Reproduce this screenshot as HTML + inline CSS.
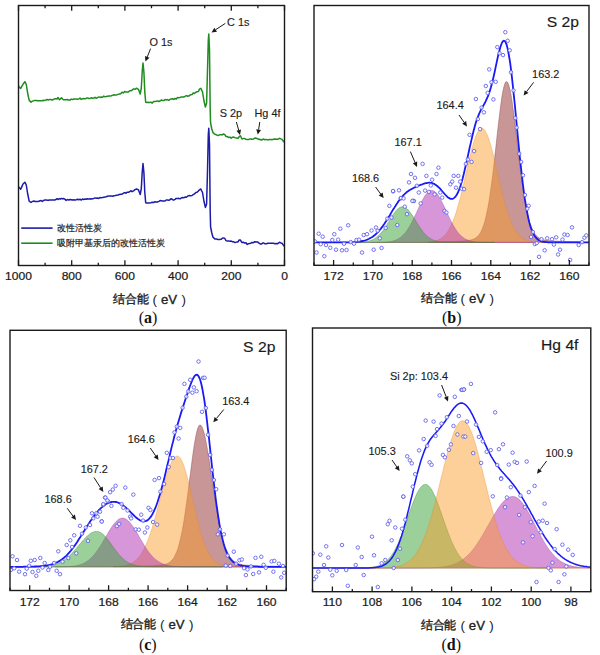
<!DOCTYPE html>
<html><head><meta charset="utf-8"><style>html,body{margin:0;padding:0;background:#fff;width:600px;height:655px;overflow:hidden}svg{display:block}</style></head>
<body><svg width="600" height="655" viewBox="0 0 600 655">
<rect width="600" height="655" fill="#fff"/>
<path d="M18.5 186.6L19.6 188.1L20.7 189.3L21.9 186.6L23 184L24.9 182.2L26.3 185L27.6 193.5L29.2 201.2L31 202.5L32.5 201.4L34 201L35.2 201.6L36.4 201.4L37.6 201.6L38.8 201.3L40 200.8L41.2 200.6L42.4 201.5L43.6 200.4L44.8 200.1L46 199.9L47.2 200.3L48.4 200.2L49.6 199.9L50.8 200L52 200L53.3 200L54.7 200L56 199.5L57 198.7L58 199.5L59.5 198.6L60.5 199L61.5 198.4L62.5 198.9L63.5 198.5L64.8 199.1L66.1 200.4L67.4 199.5L68.7 200.1L70 199.5L71.2 199.8L72.5 200.1L73.8 199.8L75 199.9L76.2 199.7L77.5 199.3L78.8 199.8L80 199.2L81.2 200.1L82.5 199.1L83.8 199.4L85 199.1L86.2 199.3L87.5 198.7L88.8 199.1L90 198.7L91.2 199L92.5 198.7L93.8 198.4L95 197.9L96.2 198.3L97.5 198.1L98.8 198.4L100 197.6L101.2 197.7L102.5 197.5L103.8 197.2L105 197L106.2 196.8L107.5 196.3L108.8 195.9L110 196L111.3 196.1L112.7 196.2L114 195.8L115.3 195.6L116.7 195.3L118 195L119.3 194.5L120.7 194.3L122 194.3L123.3 193.2L124.7 192.6L126 193.2L127.2 192.2L128.4 192.2L129.6 191.8L130.8 190.7L132 191.7L133.5 190.8L135 189.6L136.5 189L137.5 189.4L138.5 190L140.2 194.5L141.3 188.5L142.2 172.5L143 163.5L143.9 172.5L144.8 192.5L145.7 202.7L146.8 202.9L148 202.9L149.4 203L150.8 202.7L152.2 202.3L153.6 202.6L155 201.7L156.2 202.1L157.5 202L158.8 201.3L160 200.6L161.2 200.7L162.5 201L163.8 200.9L165 201L166.2 200L167.5 200.1L168.8 200.2L170 199.7L171.2 198.7L172.5 199.7L173.8 200L175 199.4L176.2 198.4L177.5 198.4L178.8 198.3L180 198.9L181.2 198L182.5 197.5L183.8 197.8L185 197L186.4 197.3L187.8 196L189.2 195.6L190.6 195.7L192 195.5L193.2 194.6L194.5 193.9L195.8 192.5L197 192.3L198.3 191.1L199.5 189.8L200.8 189L202.5 192.5L204 201.5L205.4 207.4L206.6 204L207.5 171L208.3 134.5L208.8 128.3L209.5 144.5L210.2 211L210.6 227L211.8 233L213 237.3L214.8 238.9L216.4 239.1L218 239.5L219.5 239.4L221 239.3L222.3 238.3L223.6 237.9L224.8 238.5L226 240.6L227.3 241L228.7 240.9L230 241.3L231.2 241.1L232.5 241.7L233.8 241.8L235 242.6L236.5 242.1L238 241.9L239.2 240L240.3 240L242 242.6L243.3 242.2L244.7 243.1L246 242.7L247.2 244.5L248.4 243.7L249.6 243.4L250.8 243.2L252 242.5L253.4 242.7L254.8 241.7L256.2 242L257.6 241.9L259 243.2L260.2 243.9L261.4 244.1L262.6 243.1L263.8 243L265 243.8L266.4 243.8L267.8 243.2L269.2 243.3L270.6 243.3L272 243.2L273.4 243.2L274.9 243.7L276.3 243.4L277.7 243.7L279.5 242.3L280.8 242.9L282 243.2L283.2 244.9L284.5 246.3" fill="none" stroke="#1c1ca8" stroke-width="1.5" stroke-linejoin="round"/>
<path d="M18.5 86L19.6 87.6L20.7 88.4L21.9 86.1L23 84.3L24.9 81.7L26.3 84.5L27.6 93L29.2 100.4L31 102.2L32.5 101.1L34 100.6L35.2 100.4L36.4 100.5L37.6 100.8L38.8 100.7L40 100.7L41.2 100.8L42.4 100.7L43.6 100.2L44.8 100.4L46 100L47.2 99.5L48.4 99.9L49.6 99.6L50.8 99.4L52 100.1L53.3 99.5L54.7 98.8L56 98.8L57 99L58 97.5L59.5 99.8L60.5 98.7L61.5 97.7L62.5 99L63.5 99.8L64.8 99.8L66.1 99.8L67.4 99.6L68.7 99.9L70 100.1L71.2 99.1L72.5 99.6L73.8 99L75 99L76.2 99.1L77.5 99.2L78.8 98.9L80 98.1L81.2 99.4L82.5 98.7L83.8 98.5L85 98.9L86.2 98.3L87.5 97.9L88.8 98.5L90 98.4L91.2 97.8L92.5 98.3L93.8 98L95 97.3L96.2 98.2L97.5 97.6L98.8 96.9L100 97.4L101.2 97.1L102.5 97.2L103.8 96.1L105 96.8L106.2 96.6L107.5 96.3L108.8 96L110 96.1L111.3 95.7L112.7 95.2L114 94.7L115.3 95.1L116.7 94.9L118 94.4L119.3 94L120.7 93.8L122 92.3L123.3 92.9L124.7 91.5L126 92.1L127.2 92.1L128.4 92L129.6 90.8L130.8 90.8L132 90.3L133.5 88.9L135 89.3L136.5 88.2L137.5 88.9L138.5 89.5L140.2 94L141.3 88L142.2 72L143 63L143.9 72L144.8 92L145.7 102.2L146.8 102.4L148 102.3L149.4 102.6L150.8 102.1L152.2 103.1L153.6 101.5L155 101.4L156.2 101.3L157.5 100.9L158.8 101.5L160 101L161.2 100.1L162.5 100.4L163.8 100.6L165 99.5L166.2 99.9L167.5 99.6L168.8 100.3L170 99.4L171.2 98.9L172.5 98.7L173.8 99.4L175 98.4L176.2 99.1L177.5 97.5L178.8 97.7L180 97.4L181.2 97L182.5 96.9L183.8 97L185 96.3L186.4 95.6L187.8 96.2L189.2 95.8L190.6 94.7L192 94.6L193.2 93L194.5 93.6L195.8 92.2L197 91.8L198.3 91.6L199.5 89.1L200.8 88.3L202.5 92L204 101L205.4 107L206.6 103L207.5 70L208.3 40L208.8 34L209.5 50L210.2 110L210.6 123L211.8 129L213 132.6L214.8 134.3L216.4 134.8L218 135.6L219.5 134.8L221 134.8L222.3 134.8L223.6 134L224.8 134.6L226 136.5L227.3 136.6L228.7 137.5L230 137.1L231.2 138.2L232.5 137.2L233.8 137.1L235 137.7L236.5 137.9L238 138.3L239.2 136.7L240.3 135.7L242 139L243.3 138.6L244.7 138.6L246 139.2L247.2 139.6L248.4 139.6L249.6 139.1L250.8 138.9L252 139.2L253.4 139.1L254.8 138L256.2 138.3L257.6 138.7L259 139.6L260.2 139.3L261.4 140L262.6 139.5L263.8 139L265 139.8L266.4 139.4L267.8 139.9L269.2 139.6L270.6 139.4L272 139.7L273.4 139.3L274.9 139L276.3 139.2L277.7 139.3L279.5 138.3L280.8 138.9L282 139.3L283.2 141.1L284.5 142.3" fill="none" stroke="#1f8c1f" stroke-width="1.5" stroke-linejoin="round"/>
<rect x="18.5" y="5.5" width="266" height="260" fill="none" stroke="#1a1a1a" stroke-width="1.4"/>
<path d="M18.5 265.5V260.3M18.5 5.5V10.7M45.1 265.5V262.7M45.1 5.5V8.3M71.7 265.5V260.3M71.7 5.5V10.7M98.3 265.5V262.7M98.3 5.5V8.3M124.9 265.5V260.3M124.9 5.5V10.7M151.5 265.5V262.7M151.5 5.5V8.3M178.1 265.5V260.3M178.1 5.5V10.7M204.7 265.5V262.7M204.7 5.5V8.3M231.3 265.5V260.3M231.3 5.5V10.7M257.9 265.5V262.7M257.9 5.5V8.3M284.5 265.5V260.3M284.5 5.5V10.7" stroke="#1a1a1a" stroke-width="1.3" fill="none"/>
<text transform="translate(18.5 280.3) scale(1.07 1)" font-family="Liberation Sans, sans-serif" font-size="11.3" text-anchor="middle" fill="#1a1a1a" stroke="#1a1a1a" stroke-width="0.22">1000</text>
<text transform="translate(71.7 280.3) scale(1.07 1)" font-family="Liberation Sans, sans-serif" font-size="11.3" text-anchor="middle" fill="#1a1a1a" stroke="#1a1a1a" stroke-width="0.22">800</text>
<text transform="translate(124.9 280.3) scale(1.07 1)" font-family="Liberation Sans, sans-serif" font-size="11.3" text-anchor="middle" fill="#1a1a1a" stroke="#1a1a1a" stroke-width="0.22">600</text>
<text transform="translate(178.1 280.3) scale(1.07 1)" font-family="Liberation Sans, sans-serif" font-size="11.3" text-anchor="middle" fill="#1a1a1a" stroke="#1a1a1a" stroke-width="0.22">400</text>
<text transform="translate(231.3 280.3) scale(1.07 1)" font-family="Liberation Sans, sans-serif" font-size="11.3" text-anchor="middle" fill="#1a1a1a" stroke="#1a1a1a" stroke-width="0.22">200</text>
<text transform="translate(284.5 280.3) scale(1.07 1)" font-family="Liberation Sans, sans-serif" font-size="11.3" text-anchor="middle" fill="#1a1a1a" stroke="#1a1a1a" stroke-width="0.22">0</text>
<text transform="translate(149.5 46.4) scale(1.09 1)" font-family="Liberation Sans, sans-serif" font-size="10" text-anchor="start" fill="#1a1a1a" stroke="#1a1a1a" stroke-width="0.12">O 1s</text>
<path d="M150.6 48.6L147.3 56.9" stroke="#1a1a1a" stroke-width="1"/>
<path d="M145.4 61.5L145 56L149.5 57.8Z" fill="#1a1a1a"/>
<text transform="translate(227 25.6) scale(1.09 1)" font-family="Liberation Sans, sans-serif" font-size="10" text-anchor="start" fill="#1a1a1a" stroke="#1a1a1a" stroke-width="0.12">C 1s</text>
<path d="M225.3 23.4L215.7 29.7" stroke="#1a1a1a" stroke-width="1"/>
<path d="M211.5 32.5L214.4 27.7L217 31.8Z" fill="#1a1a1a"/>
<text transform="translate(219.7 117) scale(1.09 1)" font-family="Liberation Sans, sans-serif" font-size="10" text-anchor="start" fill="#1a1a1a" stroke="#1a1a1a" stroke-width="0.12">S 2p</text>
<path d="M236.4 122L238.7 130.2" stroke="#1a1a1a" stroke-width="1"/>
<path d="M240 135L236.4 130.8L241 129.5Z" fill="#1a1a1a"/>
<text transform="translate(254.5 117) scale(1.09 1)" font-family="Liberation Sans, sans-serif" font-size="10" text-anchor="start" fill="#1a1a1a" stroke="#1a1a1a" stroke-width="0.12">Hg 4f</text>
<path d="M259.8 122L258.6 129.6" stroke="#1a1a1a" stroke-width="1"/>
<path d="M257.8 134.5L256.2 129.2L261 129.9Z" fill="#1a1a1a"/>
<path d="M21.2 228.1H52.6" stroke="#1c1ca8" stroke-width="1.6"/>
<path d="M21.2 243.2H52.6" stroke="#1f8c1f" stroke-width="1.6"/>
<text x="57.2" y="231" font-family="Liberation Sans, sans-serif" font-size="9" fill="#1a1a1a" stroke="#1a1a1a" stroke-width="0.2">改性活性炭</text>
<text x="57.2" y="246.2" font-family="Liberation Sans, sans-serif" font-size="9" fill="#1a1a1a" stroke="#1a1a1a" stroke-width="0.2">吸附甲基汞后的改性活性炭</text>
<g fill="#222" stroke="#222" stroke-width="0.35" font-family="Liberation Sans, sans-serif">
<text x="113" y="303" font-size="12" letter-spacing="-0.2">结合能</text>
<text x="152.6" y="303.5" font-size="13.5" stroke-width="0">(</text>
<text x="161" y="304" font-size="13.2">eV</text>
<text x="181.4" y="303.5" font-size="13.5" stroke-width="0">)</text>
</g>
<text x="148" y="322.5" font-family="Liberation Serif, serif" font-size="16" text-anchor="middle" fill="#111">(<tspan font-weight="bold">a</tspan>)</text>
<clipPath id="cp2"><rect x="314" y="5.5" width="275" height="259.8"/></clipPath>
<g clip-path="url(#cp2)">
<path d="M428.6 241.9L429.5 241.9L430.4 241.9L431.3 241.9L432.2 241.9L433.2 241.9L434.1 241.9L435 241.8L435.9 241.8L436.8 241.8L437.8 241.8L438.7 241.8L439.6 241.8L440.5 241.8L441.4 241.7L442.3 241.7L443.2 241.7L444.2 241.7L445.1 241.7L446 241.6L446.9 241.6L447.8 241.6L448.8 241.6L449.7 241.5L450.6 241.5L451.5 241.5L452.4 241.4L453.3 241.4L454.2 241.4L455.2 241.4L456.1 241.3L457 241.3L457.9 241.2L458.8 241.2L459.8 241.1L460.7 241.1L461.6 241L462.5 241L463.4 240.9L464.3 240.8L465.2 240.8L466.2 240.7L467.1 240.6L468 240.5L468.9 240.3L469.8 240.1L470.8 239.9L471.7 239.7L472.6 239.4L473.5 239.1L474.4 238.7L475.3 238.1L476.2 237.5L477.2 236.8L478.1 235.8L479 234.7L479.9 233.4L480.8 231.9L481.8 230L482.7 227.8L483.6 225.3L484.5 222.4L485.4 219L486.3 215.2L487.2 210.9L488.2 206L489.1 200.7L490 194.8L490.9 188.4L491.8 181.5L492.8 174.2L493.7 166.5L494.6 158.5L495.5 150.3L496.4 141.9L497.3 133.6L498.2 125.4L499.2 117.4L500.1 109.9L501 103L501.9 96.8L502.8 91.4L503.8 87.1L504.7 84L505.6 82.1L506.5 81.4L507.4 82L508.3 83.7L509.2 86.6L510.2 90.4L511.1 95.2L512 100.9L512.9 107.2L513.8 114.1L514.8 121.5L515.7 129.1L516.6 137L517.5 144.9L518.4 152.8L519.3 160.5L520.2 168L521.2 175.3L522.1 182.1L523 188.6L523.9 194.7L524.8 200.2L525.8 205.4L526.7 210L527.6 214.2L528.5 217.9L529.4 221.3L530.3 224.2L531.2 226.7L532.2 229L533.1 230.9L534 232.5L534.9 233.9L535.8 235.1L536.8 236.1L537.7 236.9L538.6 237.6L539.5 238.2L540.4 238.7L541.3 239.1L542.2 239.4L543.2 239.7L544.1 239.9L545 240.1L545.9 240.3L546.8 240.4L547.8 240.5L548.7 240.6L549.6 240.7L550.5 240.8L551.4 240.9L552.3 240.9L553.2 241L554.2 241L555.1 241.1L556 241.1L556.9 241.2L557.8 241.2L558.8 241.3L559.7 241.3L560.6 241.3L561.5 241.4L562.4 241.4L563.3 241.4L564.2 241.5L565.2 241.5L566.1 241.5L567 241.5L567.9 241.6L568.8 241.6L569.8 241.6L570.7 241.6L571.6 241.7L572.5 241.7L573.4 241.7L574.3 241.7L575.2 241.7L576.2 241.7L577.1 241.8L578 241.8L578.9 241.8L579.8 241.8L580.8 241.8L581.7 241.8L582.6 241.9L583.5 241.9L584.4 241.9L584.4 242.4L428.6 242.4Z" fill="#912d2d" fill-opacity="0.5" stroke="#7a3030" stroke-opacity="0.45" stroke-width="0.8"/>
<path d="M370.8 242.4L371.8 242.4L372.7 242.4L373.6 242.4L374.5 242.4L375.4 242.4L376.3 242.4L377.2 242.4L378.2 242.4L379.1 242.4L380 242.4L380.9 242.4L381.8 242.4L382.8 242.4L383.7 242.4L384.6 242.4L385.5 242.4L386.4 242.4L387.3 242.4L388.2 242.4L389.2 242.4L390.1 242.4L391 242.4L391.9 242.4L392.8 242.4L393.8 242.4L394.7 242.4L395.6 242.4L396.5 242.4L397.4 242.4L398.3 242.4L399.2 242.4L400.2 242.4L401.1 242.4L402 242.4L402.9 242.4L403.8 242.4L404.8 242.4L405.7 242.4L406.6 242.4L407.5 242.4L408.4 242.4L409.3 242.4L410.2 242.4L411.2 242.4L412.1 242.4L413 242.4L413.9 242.4L414.8 242.4L415.8 242.4L416.7 242.4L417.6 242.4L418.5 242.4L419.4 242.4L420.3 242.3L421.2 242.3L422.2 242.3L423.1 242.3L424 242.3L424.9 242.2L425.8 242.2L426.8 242.2L427.7 242.1L428.6 242L429.5 242L430.4 241.9L431.3 241.7L432.2 241.6L433.2 241.5L434.1 241.3L435 241L435.9 240.8L436.8 240.5L437.8 240.2L438.7 239.8L439.6 239.3L440.5 238.8L441.4 238.2L442.3 237.5L443.2 236.8L444.2 235.9L445.1 235L446 233.9L446.9 232.7L447.8 231.4L448.8 229.9L449.7 228.3L450.6 226.5L451.5 224.6L452.4 222.5L453.3 220.3L454.2 217.8L455.2 215.3L456.1 212.5L457 209.5L457.9 206.4L458.8 203.2L459.8 199.7L460.7 196.2L461.6 192.5L462.5 188.7L463.4 184.8L464.3 180.8L465.2 176.8L466.2 172.8L467.1 168.8L468 164.7L468.9 160.8L469.8 157L470.8 153.2L471.7 149.6L472.6 146.2L473.5 143.1L474.4 140.1L475.3 137.5L476.2 135.1L477.2 133.1L478.1 131.4L479 130L479.9 129L480.8 128.4L481.8 128.2L482.7 128.4L483.6 128.9L484.5 129.9L485.4 131.2L486.3 132.9L487.2 134.9L488.2 137.2L489.1 139.8L490 142.7L490.9 145.9L491.8 149.3L492.8 152.8L493.7 156.5L494.6 160.4L495.5 164.3L496.4 168.3L497.3 172.3L498.2 176.4L499.2 180.4L500.1 184.4L501 188.3L501.9 192.1L502.8 195.8L503.8 199.4L504.7 202.8L505.6 206.1L506.5 209.2L507.4 212.2L508.3 215L509.2 217.6L510.2 220L511.1 222.3L512 224.4L512.9 226.3L513.8 228.1L514.8 229.7L515.7 231.2L516.6 232.5L517.5 233.8L518.4 234.8L519.3 235.8L520.2 236.7L521.2 237.5L522.1 238.1L523 238.7L523.9 239.3L524.8 239.7L525.8 240.1L526.7 240.5L527.6 240.8L528.5 241L529.4 241.2L530.3 241.4L531.2 241.6L532.2 241.7L533.1 241.8L534 241.9L534.9 242L535.8 242.1L536.8 242.1L537.7 242.2L538.6 242.2L539.5 242.3L540.4 242.3L541.3 242.3L542.2 242.3L543.2 242.3L544.1 242.4L545 242.4L545.9 242.4L546.8 242.4L547.8 242.4L548.7 242.4L549.6 242.4L550.5 242.4L551.4 242.4L552.3 242.4L553.2 242.4L554.2 242.4L555.1 242.4L556 242.4L556.9 242.4L557.8 242.4L558.8 242.4L559.7 242.4L560.6 242.4L561.5 242.4L562.4 242.4L563.3 242.4L564.2 242.4L565.2 242.4L566.1 242.4L567 242.4L567.9 242.4L568.8 242.4L569.8 242.4L570.7 242.4L571.6 242.4L572.5 242.4L573.4 242.4L574.3 242.4L575.2 242.4L576.2 242.4L577.1 242.4L578 242.4L578.9 242.4L579.8 242.4L580.8 242.4L581.7 242.4L582.6 242.4L583.5 242.4L584.4 242.4L585.3 242.4L586.2 242.4L587.2 242.4L588.1 242.4L589 242.4L589 242.4L370.8 242.4Z" fill="#fa9b28" fill-opacity="0.47" stroke="#e88a30" stroke-opacity="0.45" stroke-width="0.8"/>
<path d="M330.5 242.4L331.4 242.4L332.3 242.4L333.2 242.4L334.2 242.4L335.1 242.4L336 242.4L336.9 242.4L337.8 242.4L338.8 242.4L339.7 242.4L340.6 242.4L341.5 242.4L342.4 242.4L343.3 242.4L344.2 242.4L345.2 242.4L346.1 242.4L347 242.4L347.9 242.4L348.8 242.4L349.8 242.4L350.7 242.4L351.6 242.4L352.5 242.4L353.4 242.4L354.3 242.4L355.2 242.4L356.2 242.4L357.1 242.4L358 242.4L358.9 242.4L359.8 242.4L360.8 242.4L361.7 242.4L362.6 242.4L363.5 242.4L364.4 242.4L365.3 242.4L366.2 242.4L367.2 242.4L368.1 242.4L369 242.4L369.9 242.4L370.8 242.4L371.8 242.4L372.7 242.4L373.6 242.4L374.5 242.4L375.4 242.4L376.3 242.4L377.2 242.4L378.2 242.3L379.1 242.3L380 242.3L380.9 242.3L381.8 242.3L382.8 242.2L383.7 242.2L384.6 242.1L385.5 242.1L386.4 242L387.3 241.9L388.2 241.8L389.2 241.7L390.1 241.6L391 241.4L391.9 241.2L392.8 241L393.8 240.8L394.7 240.5L395.6 240.1L396.5 239.7L397.4 239.3L398.3 238.8L399.2 238.2L400.2 237.6L401.1 236.9L402 236.1L402.9 235.3L403.8 234.3L404.8 233.3L405.7 232.2L406.6 230.9L407.5 229.6L408.4 228.2L409.3 226.7L410.2 225.2L411.2 223.5L412.1 221.7L413 219.9L413.9 218L414.8 216.1L415.8 214.2L416.7 212.2L417.6 210.2L418.5 208.2L419.4 206.2L420.3 204.3L421.2 202.4L422.2 200.6L423.1 198.9L424 197.3L424.9 195.8L425.8 194.5L426.8 193.4L427.7 192.4L428.6 191.6L429.5 191L430.4 190.6L431.3 190.4L432.2 190.4L433.2 190.7L434.1 191.1L435 191.7L435.9 192.6L436.8 193.6L437.8 194.8L438.7 196.1L439.6 197.6L440.5 199.2L441.4 200.9L442.3 202.8L443.2 204.6L444.2 206.6L445.1 208.6L446 210.6L446.9 212.6L447.8 214.5L448.8 216.5L449.7 218.4L450.6 220.3L451.5 222.1L452.4 223.8L453.3 225.5L454.2 227L455.2 228.5L456.1 229.9L457 231.2L457.9 232.4L458.8 233.5L459.8 234.5L460.7 235.4L461.6 236.3L462.5 237.1L463.4 237.7L464.3 238.4L465.2 238.9L466.2 239.4L467.1 239.8L468 240.2L468.9 240.5L469.8 240.8L470.8 241.1L471.7 241.3L472.6 241.5L473.5 241.6L474.4 241.7L475.3 241.9L476.2 242L477.2 242L478.1 242.1L479 242.2L479.9 242.2L480.8 242.2L481.8 242.3L482.7 242.3L483.6 242.3L484.5 242.3L485.4 242.3L486.3 242.4L487.2 242.4L488.2 242.4L489.1 242.4L490 242.4L490.9 242.4L491.8 242.4L492.8 242.4L493.7 242.4L494.6 242.4L495.5 242.4L496.4 242.4L497.3 242.4L498.2 242.4L499.2 242.4L500.1 242.4L501 242.4L501.9 242.4L502.8 242.4L503.8 242.4L504.7 242.4L505.6 242.4L506.5 242.4L507.4 242.4L508.3 242.4L509.2 242.4L510.2 242.4L511.1 242.4L512 242.4L512.9 242.4L513.8 242.4L514.8 242.4L515.7 242.4L516.6 242.4L517.5 242.4L518.4 242.4L519.3 242.4L520.2 242.4L521.2 242.4L522.1 242.4L523 242.4L523.9 242.4L524.8 242.4L525.8 242.4L526.7 242.4L527.6 242.4L528.5 242.4L529.4 242.4L530.3 242.4L531.2 242.4L532.2 242.4L533.1 242.4L533.1 242.4L330.5 242.4Z" fill="#af2daf" fill-opacity="0.5" stroke="#9a40a0" stroke-opacity="0.45" stroke-width="0.8"/>
<path d="M314 242.4L314.9 242.4L315.8 242.4L316.8 242.4L317.7 242.4L318.6 242.4L319.5 242.4L320.4 242.4L321.3 242.4L322.2 242.4L323.2 242.4L324.1 242.4L325 242.4L325.9 242.4L326.8 242.4L327.8 242.4L328.7 242.4L329.6 242.4L330.5 242.4L331.4 242.4L332.3 242.4L333.2 242.4L334.2 242.4L335.1 242.4L336 242.4L336.9 242.4L337.8 242.4L338.8 242.4L339.7 242.4L340.6 242.4L341.5 242.4L342.4 242.4L343.3 242.4L344.2 242.4L345.2 242.4L346.1 242.4L347 242.4L347.9 242.4L348.8 242.4L349.8 242.4L350.7 242.4L351.6 242.4L352.5 242.4L353.4 242.4L354.3 242.4L355.2 242.3L356.2 242.3L357.1 242.3L358 242.3L358.9 242.3L359.8 242.2L360.8 242.2L361.7 242.1L362.6 242L363.5 242L364.4 241.9L365.3 241.7L366.2 241.6L367.2 241.4L368.1 241.2L369 241L369.9 240.7L370.8 240.4L371.8 240.1L372.7 239.7L373.6 239.2L374.5 238.7L375.4 238.1L376.3 237.4L377.2 236.7L378.2 235.9L379.1 235.1L380 234.1L380.9 233.1L381.8 232L382.8 230.8L383.7 229.6L384.6 228.3L385.5 226.9L386.4 225.5L387.3 224L388.2 222.5L389.2 221L390.1 219.5L391 218L391.9 216.6L392.8 215.1L393.8 213.8L394.7 212.5L395.6 211.3L396.5 210.2L397.4 209.3L398.3 208.4L399.2 207.8L400.2 207.3L401.1 206.9L402 206.7L402.9 206.7L403.8 206.9L404.8 207.2L405.7 207.7L406.6 208.4L407.5 209.2L408.4 210.1L409.3 211.2L410.2 212.4L411.2 213.7L412.1 215L413 216.4L413.9 217.9L414.8 219.4L415.8 220.9L416.7 222.4L417.6 223.9L418.5 225.3L419.4 226.8L420.3 228.1L421.2 229.5L422.2 230.7L423.1 231.9L424 233L424.9 234L425.8 235L426.8 235.9L427.7 236.7L428.6 237.4L429.5 238L430.4 238.6L431.3 239.2L432.2 239.6L433.2 240L434.1 240.4L435 240.7L435.9 241L436.8 241.2L437.8 241.4L438.7 241.6L439.6 241.7L440.5 241.8L441.4 241.9L442.3 242L443.2 242.1L444.2 242.2L445.1 242.2L446 242.2L446.9 242.3L447.8 242.3L448.8 242.3L449.7 242.3L450.6 242.4L451.5 242.4L452.4 242.4L453.3 242.4L454.2 242.4L455.2 242.4L456.1 242.4L457 242.4L457.9 242.4L458.8 242.4L459.8 242.4L460.7 242.4L461.6 242.4L462.5 242.4L463.4 242.4L464.3 242.4L465.2 242.4L466.2 242.4L467.1 242.4L468 242.4L468.9 242.4L469.8 242.4L470.8 242.4L471.7 242.4L472.6 242.4L473.5 242.4L474.4 242.4L475.3 242.4L476.2 242.4L477.2 242.4L478.1 242.4L479 242.4L479.9 242.4L480.8 242.4L481.8 242.4L482.7 242.4L483.6 242.4L484.5 242.4L485.4 242.4L486.3 242.4L487.2 242.4L488.2 242.4L489.1 242.4L490 242.4L490.9 242.4L491.8 242.4L492.8 242.4L493.7 242.4L494.6 242.4L494.6 242.4L314 242.4Z" fill="#37a137" fill-opacity="0.5" stroke="#308030" stroke-opacity="0.45" stroke-width="0.8"/>
<path d="M314 242.4L314.9 242.4L315.8 242.4L316.8 242.4L317.7 242.4L318.6 242.4L319.5 242.4L320.4 242.4L321.3 242.4L322.2 242.4L323.2 242.4L324.1 242.4L325 242.4L325.9 242.4L326.8 242.4L327.8 242.4L328.7 242.4L329.6 242.4L330.5 242.4L331.4 242.4L332.3 242.4L333.2 242.4L334.2 242.4L335.1 242.4L336 242.4L336.9 242.4L337.8 242.4L338.8 242.4L339.7 242.4L340.6 242.4L341.5 242.4L342.4 242.4L343.3 242.4L344.2 242.4L345.2 242.3L346.1 242.3L347 242.3L347.9 242.3L348.8 242.3L349.8 242.3L350.7 242.2L351.6 242.2L352.5 242.2L353.4 242.1L354.3 242.1L355.2 242L356.2 241.9L357.1 241.8L358 241.7L358.9 241.6L359.8 241.5L360.8 241.4L361.7 241.2L362.6 241L363.5 240.8L364.4 240.5L365.3 240.3L366.2 240L367.2 239.6L368.1 239.2L369 238.8L369.9 238.3L370.8 237.8L371.8 237.3L372.7 236.7L373.6 236L374.5 235.3L375.4 234.5L376.3 233.6L377.2 232.8L378.2 231.8L379.1 230.8L380 229.7L380.9 228.6L381.8 227.4L382.8 226.1L383.7 224.8L384.6 223.5L385.5 222.1L386.4 220.7L387.3 219.2L388.2 217.7L389.2 216.2L390.1 214.7L391 213.1L391.9 211.6L392.8 210.1L393.8 208.6L394.7 207.1L395.6 205.7L396.5 204.2L397.4 202.9L398.3 201.6L399.2 200.3L400.2 199.1L401.1 197.9L402 196.8L402.9 195.8L403.8 194.8L404.8 193.9L405.7 193.1L406.6 192.3L407.5 191.6L408.4 191L409.3 190.3L410.2 189.8L411.2 189.2L412.1 188.7L413 188.2L413.9 187.8L414.8 187.4L415.8 186.9L416.7 186.5L417.6 186.1L418.5 185.7L419.4 185.4L420.3 185L421.2 184.6L422.2 184.3L423.1 184L424 183.7L424.9 183.4L425.8 183.1L426.8 183L427.7 182.8L428.6 182.7L429.5 182.7L430.4 182.8L431.3 182.9L432.2 183.1L433.2 183.5L434.1 183.9L435 184.4L435.9 185L436.8 185.7L437.8 186.5L438.7 187.3L439.6 188.2L440.5 189.2L441.4 190.3L442.3 191.3L443.2 192.4L444.2 193.5L445.1 194.5L446 195.5L446.9 196.4L447.8 197.2L448.8 197.9L449.7 198.4L450.6 198.8L451.5 198.9L452.4 198.8L453.3 198.5L454.2 197.9L455.2 197L456.1 195.8L457 194.3L457.9 192.5L458.8 190.4L459.8 188L460.7 185.2L461.6 182.2L462.5 179L463.4 175.5L464.3 171.7L465.2 167.8L466.2 163.8L467.1 159.7L468 155.4L468.9 151.2L469.8 147L470.8 142.9L471.7 138.9L472.6 135L473.5 131.3L474.4 127.8L475.3 124.6L476.2 121.6L477.2 118.8L478.1 116.3L479 114.1L479.9 112L480.8 110.1L481.8 108.4L482.7 106.7L483.6 105.1L484.5 103.5L485.4 101.8L486.3 99.9L487.2 97.9L488.2 95.7L489.1 93.2L490 90.4L490.9 87.3L491.8 83.9L492.8 80.2L493.7 76.3L494.6 72.2L495.5 67.9L496.4 63.6L497.3 59.4L498.2 55.3L499.2 51.5L500.1 48.1L501 45.2L501.9 42.9L502.8 41.4L503.8 40.7L504.7 41L505.6 42.2L506.5 44.4L507.4 47.6L508.3 51.9L509.2 57.1L510.2 63.2L511.1 70.2L512 77.9L512.9 86.3L513.8 95.1L514.8 104.4L515.7 113.9L516.6 123.5L517.5 133.1L518.4 142.6L519.3 151.9L520.2 160.9L521.2 169.5L522.1 177.6L523 185.2L523.9 192.2L524.8 198.7L525.8 204.6L526.7 210L527.6 214.7L528.5 219L529.4 222.7L530.3 225.9L531.2 228.7L532.2 231.1L533.1 233.2L534 234.9L534.9 236.3L535.8 237.5L536.8 238.5L537.7 239.3L538.6 240L539.5 240.5L540.4 240.9L541.3 241.3L542.2 241.5L543.2 241.8L544.1 241.9L545 242L545.9 242.1L546.8 242.2L547.8 242.3L548.7 242.3L549.6 242.3L550.5 242.3L551.4 242.4L552.3 242.4L553.2 242.4L554.2 242.4L555.1 242.4L556 242.4L556.9 242.4L557.8 242.4L558.8 242.4L559.7 242.4L560.6 242.4L561.5 242.4L562.4 242.4L563.3 242.4L564.2 242.4L565.2 242.4L566.1 242.4L567 242.4L567.9 242.4L568.8 242.4L569.8 242.4L570.7 242.4L571.6 242.4L572.5 242.4L573.4 242.4L574.3 242.4L575.2 242.4L576.2 242.4L577.1 242.4L578 242.4L578.9 242.4L579.8 242.4L580.8 242.4L581.7 242.4L582.6 242.4L583.5 242.4L584.4 242.4L585.3 242.4L586.2 242.4L587.2 242.4L588.1 242.4L589 242.4" fill="none" stroke="#1a1af5" stroke-width="1.8"/>
<circle cx="318.7" cy="233.7" r="1.75" fill="#fff" fill-opacity="0.8" stroke="#5c5cf0" stroke-width="0.85"/>
<circle cx="322.7" cy="236.7" r="1.75" fill="#fff" fill-opacity="0.8" stroke="#5c5cf0" stroke-width="0.85"/>
<circle cx="314.8" cy="241.3" r="1.75" fill="#fff" fill-opacity="0.8" stroke="#5c5cf0" stroke-width="0.85"/>
<circle cx="320.7" cy="244.2" r="1.75" fill="#fff" fill-opacity="0.8" stroke="#5c5cf0" stroke-width="0.85"/>
<circle cx="316.5" cy="252.5" r="1.75" fill="#fff" fill-opacity="0.8" stroke="#5c5cf0" stroke-width="0.85"/>
<circle cx="324.3" cy="256.2" r="1.75" fill="#fff" fill-opacity="0.8" stroke="#5c5cf0" stroke-width="0.85"/>
<circle cx="326" cy="245" r="1.75" fill="#fff" fill-opacity="0.8" stroke="#5c5cf0" stroke-width="0.85"/>
<circle cx="330.3" cy="247.8" r="1.75" fill="#fff" fill-opacity="0.8" stroke="#5c5cf0" stroke-width="0.85"/>
<circle cx="332.3" cy="240" r="1.75" fill="#fff" fill-opacity="0.8" stroke="#5c5cf0" stroke-width="0.85"/>
<circle cx="334.3" cy="234.2" r="1.75" fill="#fff" fill-opacity="0.8" stroke="#5c5cf0" stroke-width="0.85"/>
<circle cx="336" cy="249.7" r="1.75" fill="#fff" fill-opacity="0.8" stroke="#5c5cf0" stroke-width="0.85"/>
<circle cx="338.2" cy="239.7" r="1.75" fill="#fff" fill-opacity="0.8" stroke="#5c5cf0" stroke-width="0.85"/>
<circle cx="340.3" cy="228.7" r="1.75" fill="#fff" fill-opacity="0.8" stroke="#5c5cf0" stroke-width="0.85"/>
<circle cx="342" cy="250.3" r="1.75" fill="#fff" fill-opacity="0.8" stroke="#5c5cf0" stroke-width="0.85"/>
<circle cx="344" cy="243.7" r="1.75" fill="#fff" fill-opacity="0.8" stroke="#5c5cf0" stroke-width="0.85"/>
<circle cx="346.5" cy="250" r="1.75" fill="#fff" fill-opacity="0.8" stroke="#5c5cf0" stroke-width="0.85"/>
<circle cx="348.2" cy="225.3" r="1.75" fill="#fff" fill-opacity="0.8" stroke="#5c5cf0" stroke-width="0.85"/>
<circle cx="350.7" cy="242" r="1.75" fill="#fff" fill-opacity="0.8" stroke="#5c5cf0" stroke-width="0.85"/>
<circle cx="354" cy="243.7" r="1.75" fill="#fff" fill-opacity="0.8" stroke="#5c5cf0" stroke-width="0.85"/>
<circle cx="356.5" cy="240" r="1.75" fill="#fff" fill-opacity="0.8" stroke="#5c5cf0" stroke-width="0.85"/>
<circle cx="359" cy="239.7" r="1.75" fill="#fff" fill-opacity="0.8" stroke="#5c5cf0" stroke-width="0.85"/>
<circle cx="362" cy="252.5" r="1.75" fill="#fff" fill-opacity="0.8" stroke="#5c5cf0" stroke-width="0.85"/>
<circle cx="363.7" cy="235" r="1.75" fill="#fff" fill-opacity="0.8" stroke="#5c5cf0" stroke-width="0.85"/>
<circle cx="367" cy="234.2" r="1.75" fill="#fff" fill-opacity="0.8" stroke="#5c5cf0" stroke-width="0.85"/>
<circle cx="371.5" cy="230.5" r="1.75" fill="#fff" fill-opacity="0.8" stroke="#5c5cf0" stroke-width="0.85"/>
<circle cx="373.7" cy="249.7" r="1.75" fill="#fff" fill-opacity="0.8" stroke="#5c5cf0" stroke-width="0.85"/>
<circle cx="376" cy="227.5" r="1.75" fill="#fff" fill-opacity="0.8" stroke="#5c5cf0" stroke-width="0.85"/>
<circle cx="377.7" cy="230.8" r="1.75" fill="#fff" fill-opacity="0.8" stroke="#5c5cf0" stroke-width="0.85"/>
<circle cx="379.8" cy="238.3" r="1.75" fill="#fff" fill-opacity="0.8" stroke="#5c5cf0" stroke-width="0.85"/>
<circle cx="381.5" cy="248" r="1.75" fill="#fff" fill-opacity="0.8" stroke="#5c5cf0" stroke-width="0.85"/>
<circle cx="385.7" cy="228" r="1.75" fill="#fff" fill-opacity="0.8" stroke="#5c5cf0" stroke-width="0.85"/>
<circle cx="387.3" cy="218.7" r="1.75" fill="#fff" fill-opacity="0.8" stroke="#5c5cf0" stroke-width="0.85"/>
<circle cx="391.5" cy="217.5" r="1.75" fill="#fff" fill-opacity="0.8" stroke="#5c5cf0" stroke-width="0.85"/>
<circle cx="397.3" cy="225" r="1.75" fill="#fff" fill-opacity="0.8" stroke="#5c5cf0" stroke-width="0.85"/>
<circle cx="389.3" cy="205.8" r="1.75" fill="#fff" fill-opacity="0.8" stroke="#5c5cf0" stroke-width="0.85"/>
<circle cx="400.7" cy="198.3" r="1.75" fill="#fff" fill-opacity="0.8" stroke="#5c5cf0" stroke-width="0.85"/>
<circle cx="404.8" cy="206.7" r="1.75" fill="#fff" fill-opacity="0.8" stroke="#5c5cf0" stroke-width="0.85"/>
<circle cx="407" cy="214.2" r="1.75" fill="#fff" fill-opacity="0.8" stroke="#5c5cf0" stroke-width="0.85"/>
<circle cx="393.2" cy="191.3" r="1.75" fill="#fff" fill-opacity="0.8" stroke="#5c5cf0" stroke-width="0.85"/>
<circle cx="399" cy="190.3" r="1.75" fill="#fff" fill-opacity="0.8" stroke="#5c5cf0" stroke-width="0.85"/>
<circle cx="413.2" cy="200.8" r="1.75" fill="#fff" fill-opacity="0.8" stroke="#5c5cf0" stroke-width="0.85"/>
<circle cx="422.6" cy="163.9" r="1.75" fill="#fff" fill-opacity="0.8" stroke="#5c5cf0" stroke-width="0.85"/>
<circle cx="438.4" cy="167.7" r="1.75" fill="#fff" fill-opacity="0.8" stroke="#5c5cf0" stroke-width="0.85"/>
<circle cx="436.5" cy="174" r="1.75" fill="#fff" fill-opacity="0.8" stroke="#5c5cf0" stroke-width="0.85"/>
<circle cx="426.4" cy="175.9" r="1.75" fill="#fff" fill-opacity="0.8" stroke="#5c5cf0" stroke-width="0.85"/>
<circle cx="415" cy="177.8" r="1.75" fill="#fff" fill-opacity="0.8" stroke="#5c5cf0" stroke-width="0.85"/>
<circle cx="432.1" cy="179.7" r="1.75" fill="#fff" fill-opacity="0.8" stroke="#5c5cf0" stroke-width="0.85"/>
<circle cx="416.9" cy="185.8" r="1.75" fill="#fff" fill-opacity="0.8" stroke="#5c5cf0" stroke-width="0.85"/>
<circle cx="430.8" cy="185.4" r="1.75" fill="#fff" fill-opacity="0.8" stroke="#5c5cf0" stroke-width="0.85"/>
<circle cx="418.8" cy="192.5" r="1.75" fill="#fff" fill-opacity="0.8" stroke="#5c5cf0" stroke-width="0.85"/>
<circle cx="425.1" cy="190.6" r="1.75" fill="#fff" fill-opacity="0.8" stroke="#5c5cf0" stroke-width="0.85"/>
<circle cx="428.9" cy="191.9" r="1.75" fill="#fff" fill-opacity="0.8" stroke="#5c5cf0" stroke-width="0.85"/>
<circle cx="434.6" cy="194.4" r="1.75" fill="#fff" fill-opacity="0.8" stroke="#5c5cf0" stroke-width="0.85"/>
<circle cx="440.3" cy="192.5" r="1.75" fill="#fff" fill-opacity="0.8" stroke="#5c5cf0" stroke-width="0.85"/>
<circle cx="442.2" cy="197.6" r="1.75" fill="#fff" fill-opacity="0.8" stroke="#5c5cf0" stroke-width="0.85"/>
<circle cx="420.7" cy="203.4" r="1.75" fill="#fff" fill-opacity="0.8" stroke="#5c5cf0" stroke-width="0.85"/>
<circle cx="414" cy="201" r="1.75" fill="#fff" fill-opacity="0.8" stroke="#5c5cf0" stroke-width="0.85"/>
<circle cx="444.5" cy="211" r="1.75" fill="#fff" fill-opacity="0.8" stroke="#5c5cf0" stroke-width="0.85"/>
<circle cx="446.4" cy="212.5" r="1.75" fill="#fff" fill-opacity="0.8" stroke="#5c5cf0" stroke-width="0.85"/>
<circle cx="450.3" cy="184.3" r="1.75" fill="#fff" fill-opacity="0.8" stroke="#5c5cf0" stroke-width="0.85"/>
<circle cx="452.2" cy="181.6" r="1.75" fill="#fff" fill-opacity="0.8" stroke="#5c5cf0" stroke-width="0.85"/>
<circle cx="453.7" cy="175.9" r="1.75" fill="#fff" fill-opacity="0.8" stroke="#5c5cf0" stroke-width="0.85"/>
<circle cx="458.3" cy="175.9" r="1.75" fill="#fff" fill-opacity="0.8" stroke="#5c5cf0" stroke-width="0.85"/>
<circle cx="460.2" cy="181.6" r="1.75" fill="#fff" fill-opacity="0.8" stroke="#5c5cf0" stroke-width="0.85"/>
<circle cx="456" cy="187.7" r="1.75" fill="#fff" fill-opacity="0.8" stroke="#5c5cf0" stroke-width="0.85"/>
<circle cx="461.7" cy="188.7" r="1.75" fill="#fff" fill-opacity="0.8" stroke="#5c5cf0" stroke-width="0.85"/>
<circle cx="464" cy="189.2" r="1.75" fill="#fff" fill-opacity="0.8" stroke="#5c5cf0" stroke-width="0.85"/>
<circle cx="465.9" cy="163.9" r="1.75" fill="#fff" fill-opacity="0.8" stroke="#5c5cf0" stroke-width="0.85"/>
<circle cx="467.8" cy="159.5" r="1.75" fill="#fff" fill-opacity="0.8" stroke="#5c5cf0" stroke-width="0.85"/>
<circle cx="471.6" cy="161.9" r="1.75" fill="#fff" fill-opacity="0.8" stroke="#5c5cf0" stroke-width="0.85"/>
<circle cx="474.1" cy="151.1" r="1.75" fill="#fff" fill-opacity="0.8" stroke="#5c5cf0" stroke-width="0.85"/>
<circle cx="505.3" cy="32.2" r="1.75" fill="#fff" fill-opacity="0.8" stroke="#5c5cf0" stroke-width="0.85"/>
<circle cx="507.7" cy="40.8" r="1.75" fill="#fff" fill-opacity="0.8" stroke="#5c5cf0" stroke-width="0.85"/>
<circle cx="497.3" cy="47.1" r="1.75" fill="#fff" fill-opacity="0.8" stroke="#5c5cf0" stroke-width="0.85"/>
<circle cx="509.7" cy="50.3" r="1.75" fill="#fff" fill-opacity="0.8" stroke="#5c5cf0" stroke-width="0.85"/>
<circle cx="499.5" cy="53.2" r="1.75" fill="#fff" fill-opacity="0.8" stroke="#5c5cf0" stroke-width="0.85"/>
<circle cx="503" cy="55.1" r="1.75" fill="#fff" fill-opacity="0.8" stroke="#5c5cf0" stroke-width="0.85"/>
<circle cx="489.2" cy="69.4" r="1.75" fill="#fff" fill-opacity="0.8" stroke="#5c5cf0" stroke-width="0.85"/>
<circle cx="511" cy="72.3" r="1.75" fill="#fff" fill-opacity="0.8" stroke="#5c5cf0" stroke-width="0.85"/>
<circle cx="491.5" cy="82.2" r="1.75" fill="#fff" fill-opacity="0.8" stroke="#5c5cf0" stroke-width="0.85"/>
<circle cx="495.7" cy="81.8" r="1.75" fill="#fff" fill-opacity="0.8" stroke="#5c5cf0" stroke-width="0.85"/>
<circle cx="485.8" cy="86" r="1.75" fill="#fff" fill-opacity="0.8" stroke="#5c5cf0" stroke-width="0.85"/>
<circle cx="487.7" cy="92.9" r="1.75" fill="#fff" fill-opacity="0.8" stroke="#5c5cf0" stroke-width="0.85"/>
<circle cx="513.5" cy="90.4" r="1.75" fill="#fff" fill-opacity="0.8" stroke="#5c5cf0" stroke-width="0.85"/>
<circle cx="475.9" cy="99" r="1.75" fill="#fff" fill-opacity="0.8" stroke="#5c5cf0" stroke-width="0.85"/>
<circle cx="493.4" cy="99.4" r="1.75" fill="#fff" fill-opacity="0.8" stroke="#5c5cf0" stroke-width="0.85"/>
<circle cx="481.6" cy="107.6" r="1.75" fill="#fff" fill-opacity="0.8" stroke="#5c5cf0" stroke-width="0.85"/>
<circle cx="483.9" cy="112.3" r="1.75" fill="#fff" fill-opacity="0.8" stroke="#5c5cf0" stroke-width="0.85"/>
<circle cx="477.8" cy="119" r="1.75" fill="#fff" fill-opacity="0.8" stroke="#5c5cf0" stroke-width="0.85"/>
<circle cx="515.4" cy="118.1" r="1.75" fill="#fff" fill-opacity="0.8" stroke="#5c5cf0" stroke-width="0.85"/>
<circle cx="480.1" cy="129.1" r="1.75" fill="#fff" fill-opacity="0.8" stroke="#5c5cf0" stroke-width="0.85"/>
<circle cx="516.7" cy="127.6" r="1.75" fill="#fff" fill-opacity="0.8" stroke="#5c5cf0" stroke-width="0.85"/>
<circle cx="469.6" cy="134.8" r="1.75" fill="#fff" fill-opacity="0.8" stroke="#5c5cf0" stroke-width="0.85"/>
<circle cx="519.2" cy="153.7" r="1.75" fill="#fff" fill-opacity="0.8" stroke="#5c5cf0" stroke-width="0.85"/>
<circle cx="521.1" cy="161.9" r="1.75" fill="#fff" fill-opacity="0.8" stroke="#5c5cf0" stroke-width="0.85"/>
<circle cx="523" cy="175.3" r="1.75" fill="#fff" fill-opacity="0.8" stroke="#5c5cf0" stroke-width="0.85"/>
<circle cx="524.9" cy="195" r="1.75" fill="#fff" fill-opacity="0.8" stroke="#5c5cf0" stroke-width="0.85"/>
<circle cx="528.7" cy="205.8" r="1.75" fill="#fff" fill-opacity="0.8" stroke="#5c5cf0" stroke-width="0.85"/>
<circle cx="527.2" cy="208.7" r="1.75" fill="#fff" fill-opacity="0.8" stroke="#5c5cf0" stroke-width="0.85"/>
<circle cx="532.9" cy="232" r="1.75" fill="#fff" fill-opacity="0.8" stroke="#5c5cf0" stroke-width="0.85"/>
<circle cx="531" cy="236.9" r="1.75" fill="#fff" fill-opacity="0.8" stroke="#5c5cf0" stroke-width="0.85"/>
<circle cx="534.8" cy="244" r="1.75" fill="#fff" fill-opacity="0.8" stroke="#5c5cf0" stroke-width="0.85"/>
<circle cx="536.7" cy="243.1" r="1.75" fill="#fff" fill-opacity="0.8" stroke="#5c5cf0" stroke-width="0.85"/>
<circle cx="541.5" cy="239.2" r="1.75" fill="#fff" fill-opacity="0.8" stroke="#5c5cf0" stroke-width="0.85"/>
<circle cx="547.2" cy="238.3" r="1.75" fill="#fff" fill-opacity="0.8" stroke="#5c5cf0" stroke-width="0.85"/>
<circle cx="544.7" cy="250.3" r="1.75" fill="#fff" fill-opacity="0.8" stroke="#5c5cf0" stroke-width="0.85"/>
<circle cx="539" cy="256.8" r="1.75" fill="#fff" fill-opacity="0.8" stroke="#5c5cf0" stroke-width="0.85"/>
<circle cx="553.9" cy="244.6" r="1.75" fill="#fff" fill-opacity="0.8" stroke="#5c5cf0" stroke-width="0.85"/>
<circle cx="556.2" cy="237.3" r="1.75" fill="#fff" fill-opacity="0.8" stroke="#5c5cf0" stroke-width="0.85"/>
<circle cx="562.5" cy="239.6" r="1.75" fill="#fff" fill-opacity="0.8" stroke="#5c5cf0" stroke-width="0.85"/>
<circle cx="564.4" cy="234.5" r="1.75" fill="#fff" fill-opacity="0.8" stroke="#5c5cf0" stroke-width="0.85"/>
<circle cx="567.6" cy="235" r="1.75" fill="#fff" fill-opacity="0.8" stroke="#5c5cf0" stroke-width="0.85"/>
<circle cx="572" cy="227.4" r="1.75" fill="#fff" fill-opacity="0.8" stroke="#5c5cf0" stroke-width="0.85"/>
<circle cx="560" cy="249.7" r="1.75" fill="#fff" fill-opacity="0.8" stroke="#5c5cf0" stroke-width="0.85"/>
<circle cx="558.1" cy="254.5" r="1.75" fill="#fff" fill-opacity="0.8" stroke="#5c5cf0" stroke-width="0.85"/>
<circle cx="570.1" cy="259.9" r="1.75" fill="#fff" fill-opacity="0.8" stroke="#5c5cf0" stroke-width="0.85"/>
<circle cx="552" cy="239.2" r="1.75" fill="#fff" fill-opacity="0.8" stroke="#5c5cf0" stroke-width="0.85"/>
<circle cx="578.7" cy="245" r="1.75" fill="#fff" fill-opacity="0.8" stroke="#5c5cf0" stroke-width="0.85"/>
<circle cx="582.1" cy="242.1" r="1.75" fill="#fff" fill-opacity="0.8" stroke="#5c5cf0" stroke-width="0.85"/>
<circle cx="584.4" cy="237.7" r="1.75" fill="#fff" fill-opacity="0.8" stroke="#5c5cf0" stroke-width="0.85"/>
<circle cx="586.3" cy="235.4" r="1.75" fill="#fff" fill-opacity="0.8" stroke="#5c5cf0" stroke-width="0.85"/>
<circle cx="411" cy="174" r="1.75" fill="#fff" fill-opacity="0.8" stroke="#5c5cf0" stroke-width="0.85"/>
<circle cx="409" cy="182.4" r="1.75" fill="#fff" fill-opacity="0.8" stroke="#5c5cf0" stroke-width="0.85"/>
<circle cx="393" cy="191" r="1.75" fill="#fff" fill-opacity="0.8" stroke="#5c5cf0" stroke-width="0.85"/>
<circle cx="401" cy="198" r="1.75" fill="#fff" fill-opacity="0.8" stroke="#5c5cf0" stroke-width="0.85"/>
<circle cx="403.6" cy="198.4" r="1.75" fill="#fff" fill-opacity="0.8" stroke="#5c5cf0" stroke-width="0.85"/>
<circle cx="412.4" cy="201" r="1.75" fill="#fff" fill-opacity="0.8" stroke="#5c5cf0" stroke-width="0.85"/>
</g>
<rect x="314" y="5.5" width="275" height="259.8" fill="none" stroke="#1a1a1a" stroke-width="1.4"/>
<path d="M314 265.3V262.5M333.6 265.3V260.1M353.3 265.3V262.5M372.9 265.3V260.1M392.6 265.3V262.5M412.2 265.3V260.1M431.9 265.3V262.5M451.5 265.3V260.1M471.1 265.3V262.5M490.8 265.3V260.1M510.4 265.3V262.5M530.1 265.3V260.1M549.7 265.3V262.5M569.4 265.3V260.1M589 265.3V262.5" stroke="#1a1a1a" stroke-width="1.3" fill="none"/>
<text transform="translate(333.6 280.3) scale(1.07 1)" font-family="Liberation Sans, sans-serif" font-size="11.3" text-anchor="middle" fill="#1a1a1a" stroke="#1a1a1a" stroke-width="0.22">172</text>
<text transform="translate(372.9 280.3) scale(1.07 1)" font-family="Liberation Sans, sans-serif" font-size="11.3" text-anchor="middle" fill="#1a1a1a" stroke="#1a1a1a" stroke-width="0.22">170</text>
<text transform="translate(412.2 280.3) scale(1.07 1)" font-family="Liberation Sans, sans-serif" font-size="11.3" text-anchor="middle" fill="#1a1a1a" stroke="#1a1a1a" stroke-width="0.22">168</text>
<text transform="translate(451.5 280.3) scale(1.07 1)" font-family="Liberation Sans, sans-serif" font-size="11.3" text-anchor="middle" fill="#1a1a1a" stroke="#1a1a1a" stroke-width="0.22">166</text>
<text transform="translate(490.8 280.3) scale(1.07 1)" font-family="Liberation Sans, sans-serif" font-size="11.3" text-anchor="middle" fill="#1a1a1a" stroke="#1a1a1a" stroke-width="0.22">164</text>
<text transform="translate(530.1 280.3) scale(1.07 1)" font-family="Liberation Sans, sans-serif" font-size="11.3" text-anchor="middle" fill="#1a1a1a" stroke="#1a1a1a" stroke-width="0.22">162</text>
<text transform="translate(569.4 280.3) scale(1.07 1)" font-family="Liberation Sans, sans-serif" font-size="11.3" text-anchor="middle" fill="#1a1a1a" stroke="#1a1a1a" stroke-width="0.22">160</text>
<text transform="translate(546.8 27) scale(1.12 1)" font-family="Liberation Sans, sans-serif" font-size="14" text-anchor="start" fill="#1a1a1a" stroke="#1a1a1a" stroke-width="0.15">S 2p</text>
<text transform="translate(351.9 181.6) scale(1.09 1)" font-family="Liberation Sans, sans-serif" font-size="10" text-anchor="start" fill="#1a1a1a" stroke="#1a1a1a" stroke-width="0.12">168.6</text>
<path d="M375.6 187L380.7 194" stroke="#1a1a1a" stroke-width="1"/>
<path d="M383.6 198L378.7 195.4L382.6 192.5Z" fill="#1a1a1a"/>
<text transform="translate(394.5 145.6) scale(1.09 1)" font-family="Liberation Sans, sans-serif" font-size="10" text-anchor="start" fill="#1a1a1a" stroke="#1a1a1a" stroke-width="0.12">167.1</text>
<path d="M410.4 151.6L415 162.4" stroke="#1a1a1a" stroke-width="1"/>
<path d="M417 167L412.8 163.3L417.2 161.5Z" fill="#1a1a1a"/>
<text transform="translate(436.5 109.4) scale(1.09 1)" font-family="Liberation Sans, sans-serif" font-size="10" text-anchor="start" fill="#1a1a1a" stroke="#1a1a1a" stroke-width="0.12">164.4</text>
<path d="M459 115L464.1 122.3" stroke="#1a1a1a" stroke-width="1"/>
<path d="M467 126.4L462.2 123.7L466.1 120.9Z" fill="#1a1a1a"/>
<text transform="translate(532.1 78) scale(1.09 1)" font-family="Liberation Sans, sans-serif" font-size="10" text-anchor="start" fill="#1a1a1a" stroke="#1a1a1a" stroke-width="0.12">163.2</text>
<path d="M533.6 82.4L526.6 91.6" stroke="#1a1a1a" stroke-width="1"/>
<path d="M523.6 95.6L524.7 90.2L528.5 93.1Z" fill="#1a1a1a"/>
<g fill="#222" stroke="#222" stroke-width="0.35" font-family="Liberation Sans, sans-serif">
<text x="421" y="302" font-size="12" letter-spacing="-0.2">结合能</text>
<text x="460.6" y="302.5" font-size="13.5" stroke-width="0">(</text>
<text x="469" y="303" font-size="13.2">eV</text>
<text x="489.4" y="302.5" font-size="13.5" stroke-width="0">)</text>
</g>
<text x="451.7" y="322.5" font-family="Liberation Serif, serif" font-size="16" text-anchor="middle" fill="#111">(<tspan font-weight="bold">b</tspan>)</text>
<clipPath id="cp3"><rect x="10" y="330.3" width="276.2" height="260.2"/></clipPath>
<g clip-path="url(#cp3)">
<path d="M113.1 566.5L114 566.4L115 566.4L115.9 566.4L116.8 566.4L117.7 566.4L118.6 566.4L119.6 566.4L120.5 566.4L121.4 566.4L122.3 566.4L123.2 566.4L124.2 566.3L125.1 566.3L126 566.3L126.9 566.3L127.8 566.3L128.8 566.3L129.7 566.3L130.6 566.3L131.5 566.3L132.4 566.2L133.4 566.2L134.3 566.2L135.2 566.2L136.1 566.2L137.1 566.2L138 566.1L138.9 566.1L139.8 566.1L140.7 566.1L141.7 566.1L142.6 566L143.5 566L144.4 566L145.3 566L146.3 565.9L147.2 565.9L148.1 565.9L149 565.8L149.9 565.8L150.9 565.8L151.8 565.7L152.7 565.7L153.6 565.6L154.5 565.6L155.5 565.5L156.4 565.5L157.3 565.4L158.2 565.3L159.1 565.3L160.1 565.2L161 565.1L161.9 564.9L162.8 564.8L163.8 564.6L164.7 564.4L165.6 564.2L166.5 563.9L167.4 563.5L168.4 563L169.3 562.5L170.2 561.8L171.1 561L172 560.1L173 558.9L173.9 557.6L174.8 556L175.7 554.1L176.6 551.9L177.6 549.4L178.5 546.5L179.4 543.2L180.3 539.5L181.2 535.3L182.2 530.7L183.1 525.7L184 520.2L184.9 514.3L185.8 508L186.8 501.3L187.7 494.4L188.6 487.3L189.5 480L190.5 472.7L191.4 465.5L192.3 458.5L193.2 451.9L194.1 445.7L195.1 440L196 435.2L196.9 431.1L197.8 428L198.7 426L199.7 425L200.6 425.1L201.5 426L202.4 427.7L203.3 430.3L204.3 433.5L205.2 437.4L206.1 441.9L207 446.9L207.9 452.3L208.9 458L209.8 464L210.7 470.2L211.6 476.5L212.5 482.7L213.5 489L214.4 495.1L215.3 501.1L216.2 506.8L217.2 512.3L218.1 517.6L219 522.5L219.9 527.1L220.8 531.4L221.8 535.3L222.7 538.9L223.6 542.2L224.5 545.2L225.4 547.8L226.4 550.2L227.3 552.3L228.2 554.2L229.1 555.8L230 557.2L231 558.4L231.9 559.5L232.8 560.4L233.7 561.2L234.6 561.9L235.6 562.4L236.5 562.9L237.4 563.3L238.3 563.7L239.2 564L240.2 564.2L241.1 564.4L242 564.6L242.9 564.8L243.8 564.9L244.8 565L245.7 565.1L246.6 565.2L247.5 565.3L248.5 565.3L249.4 565.4L250.3 565.5L251.2 565.5L252.1 565.6L253.1 565.6L254 565.6L254.9 565.7L255.8 565.7L256.7 565.8L257.7 565.8L258.6 565.8L259.5 565.8L260.4 565.9L261.3 565.9L262.3 565.9L263.2 565.9L264.1 566L265 566L265.9 566L266.9 566L267.8 566.1L268.7 566.1L269.6 566.1L270.5 566.1L271.5 566.1L272.4 566.1L273.3 566.2L274.2 566.2L275.2 566.2L276.1 566.2L277 566.2L277.9 566.2L278.8 566.2L279.8 566.3L280.7 566.3L281.6 566.3L282.5 566.3L283.4 566.3L284.4 566.3L285.3 566.3L286.2 566.3L286.2 566.8L113.1 566.8Z" fill="#912d2d" fill-opacity="0.5" stroke="#7a3030" stroke-opacity="0.45" stroke-width="0.8"/>
<path d="M55.1 566.8L56 566.8L57 566.8L57.9 566.8L58.8 566.8L59.7 566.8L60.6 566.8L61.6 566.8L62.5 566.8L63.4 566.8L64.3 566.8L65.2 566.8L66.2 566.8L67.1 566.8L68 566.8L68.9 566.8L69.8 566.8L70.8 566.8L71.7 566.8L72.6 566.8L73.5 566.8L74.4 566.8L75.4 566.8L76.3 566.8L77.2 566.8L78.1 566.8L79 566.8L80 566.8L80.9 566.8L81.8 566.8L82.7 566.8L83.7 566.8L84.6 566.8L85.5 566.8L86.4 566.8L87.3 566.8L88.3 566.8L89.2 566.8L90.1 566.8L91 566.8L91.9 566.8L92.9 566.8L93.8 566.8L94.7 566.8L95.6 566.8L96.5 566.8L97.5 566.8L98.4 566.8L99.3 566.8L100.2 566.8L101.1 566.8L102.1 566.8L103 566.8L103.9 566.8L104.8 566.8L105.7 566.8L106.7 566.8L107.6 566.8L108.5 566.8L109.4 566.7L110.4 566.7L111.3 566.7L112.2 566.7L113.1 566.7L114 566.6L115 566.6L115.9 566.6L116.8 566.5L117.7 566.5L118.6 566.4L119.6 566.3L120.5 566.3L121.4 566.2L122.3 566L123.2 565.9L124.2 565.7L125.1 565.6L126 565.4L126.9 565.1L127.8 564.8L128.8 564.5L129.7 564.2L130.6 563.8L131.5 563.3L132.4 562.8L133.4 562.2L134.3 561.6L135.2 560.8L136.1 560L137.1 559.1L138 558.2L138.9 557.1L139.8 555.9L140.7 554.6L141.7 553.2L142.6 551.6L143.5 550L144.4 548.2L145.3 546.3L146.3 544.2L147.2 542L148.1 539.7L149 537.2L149.9 534.6L150.9 531.8L151.8 529L152.7 526L153.6 522.9L154.5 519.7L155.5 516.4L156.4 513L157.3 509.5L158.2 506L159.1 502.5L160.1 499L161 495.4L161.9 491.9L162.8 488.4L163.8 485L164.7 481.7L165.6 478.5L166.5 475.4L167.4 472.5L168.4 469.8L169.3 467.3L170.2 464.9L171.1 462.9L172 461L173 459.5L173.9 458.2L174.8 457.2L175.7 456.6L176.6 456.2L177.6 456.1L178.5 456.4L179.4 457.1L180.3 458.2L181.2 459.7L182.2 461.6L183.1 463.7L184 466.3L184.9 469.1L185.8 472.1L186.8 475.4L187.7 478.9L188.6 482.6L189.5 486.4L190.5 490.3L191.4 494.3L192.3 498.4L193.2 502.4L194.1 506.4L195.1 510.4L196 514.3L196.9 518.1L197.8 521.8L198.7 525.4L199.7 528.8L200.6 532.1L201.5 535.2L202.4 538.1L203.3 540.8L204.3 543.4L205.2 545.8L206.1 548L207 550.1L207.9 552L208.9 553.7L209.8 555.2L210.7 556.6L211.6 557.9L212.5 559L213.5 560.1L214.4 561L215.3 561.8L216.2 562.5L217.2 563.1L218.1 563.6L219 564.1L219.9 564.5L220.8 564.9L221.8 565.2L222.7 565.4L223.6 565.7L224.5 565.9L225.4 566L226.4 566.2L227.3 566.3L228.2 566.4L229.1 566.4L230 566.5L231 566.6L231.9 566.6L232.8 566.6L233.7 566.7L234.6 566.7L235.6 566.7L236.5 566.7L237.4 566.8L238.3 566.8L239.2 566.8L240.2 566.8L241.1 566.8L242 566.8L242.9 566.8L243.8 566.8L244.8 566.8L245.7 566.8L246.6 566.8L247.5 566.8L248.5 566.8L249.4 566.8L250.3 566.8L251.2 566.8L252.1 566.8L253.1 566.8L254 566.8L254.9 566.8L255.8 566.8L256.7 566.8L257.7 566.8L258.6 566.8L259.5 566.8L260.4 566.8L261.3 566.8L262.3 566.8L263.2 566.8L264.1 566.8L265 566.8L265.9 566.8L266.9 566.8L267.8 566.8L268.7 566.8L269.6 566.8L270.5 566.8L271.5 566.8L272.4 566.8L273.3 566.8L274.2 566.8L275.2 566.8L276.1 566.8L277 566.8L277.9 566.8L278.8 566.8L279.8 566.8L280.7 566.8L281.6 566.8L282.5 566.8L283.4 566.8L284.4 566.8L285.3 566.8L286.2 566.8L286.2 566.8L55.1 566.8Z" fill="#fa9b28" fill-opacity="0.47" stroke="#e88a30" stroke-opacity="0.45" stroke-width="0.8"/>
<path d="M10 566.8L10.9 566.8L11.8 566.8L12.8 566.8L13.7 566.8L14.6 566.8L15.5 566.8L16.4 566.8L17.4 566.8L18.3 566.8L19.2 566.8L20.1 566.8L21 566.8L22 566.8L22.9 566.8L23.8 566.8L24.7 566.8L25.7 566.8L26.6 566.8L27.5 566.8L28.4 566.8L29.3 566.8L30.3 566.8L31.2 566.8L32.1 566.8L33 566.8L33.9 566.8L34.9 566.8L35.8 566.8L36.7 566.8L37.6 566.8L38.5 566.8L39.5 566.8L40.4 566.8L41.3 566.8L42.2 566.8L43.1 566.8L44.1 566.8L45 566.8L45.9 566.8L46.8 566.8L47.7 566.8L48.7 566.8L49.6 566.8L50.5 566.8L51.4 566.8L52.4 566.8L53.3 566.8L54.2 566.8L55.1 566.8L56 566.8L57 566.8L57.9 566.8L58.8 566.8L59.7 566.7L60.6 566.7L61.6 566.7L62.5 566.7L63.4 566.7L64.3 566.7L65.2 566.6L66.2 566.6L67.1 566.6L68 566.5L68.9 566.5L69.8 566.4L70.8 566.3L71.7 566.2L72.6 566.1L73.5 566L74.4 565.9L75.4 565.8L76.3 565.6L77.2 565.4L78.1 565.2L79 565L80 564.7L80.9 564.4L81.8 564L82.7 563.7L83.7 563.2L84.6 562.8L85.5 562.3L86.4 561.7L87.3 561.1L88.3 560.4L89.2 559.7L90.1 558.9L91 558.1L91.9 557.1L92.9 556.2L93.8 555.1L94.7 554L95.6 552.9L96.5 551.6L97.5 550.4L98.4 549L99.3 547.6L100.2 546.2L101.1 544.7L102.1 543.2L103 541.6L103.9 540L104.8 538.5L105.7 536.9L106.7 535.3L107.6 533.7L108.5 532.1L109.4 530.6L110.4 529.1L111.3 527.7L112.2 526.3L113.1 525L114 523.8L115 522.7L115.9 521.7L116.8 520.8L117.7 520L118.6 519.3L119.6 518.8L120.5 518.4L121.4 518.2L122.3 518.1L123.2 518.1L124.2 518.3L125.1 518.7L126 519.1L126.9 519.7L127.8 520.5L128.8 521.3L129.7 522.3L130.6 523.3L131.5 524.5L132.4 525.8L133.4 527.1L134.3 528.5L135.2 530L136.1 531.5L137.1 533.1L138 534.6L138.9 536.2L139.8 537.8L140.7 539.4L141.7 541L142.6 542.6L143.5 544.1L144.4 545.6L145.3 547.1L146.3 548.5L147.2 549.9L148.1 551.2L149 552.4L149.9 553.6L150.9 554.7L151.8 555.8L152.7 556.8L153.6 557.7L154.5 558.6L155.5 559.4L156.4 560.1L157.3 560.8L158.2 561.5L159.1 562L160.1 562.6L161 563.1L161.9 563.5L162.8 563.9L163.8 564.2L164.7 564.6L165.6 564.9L166.5 565.1L167.4 565.3L168.4 565.5L169.3 565.7L170.2 565.9L171.1 566L172 566.1L173 566.2L173.9 566.3L174.8 566.4L175.7 566.4L176.6 566.5L177.6 566.5L178.5 566.6L179.4 566.6L180.3 566.7L181.2 566.7L182.2 566.7L183.1 566.7L184 566.7L184.9 566.7L185.8 566.8L186.8 566.8L187.7 566.8L188.6 566.8L189.5 566.8L190.5 566.8L191.4 566.8L192.3 566.8L193.2 566.8L194.1 566.8L195.1 566.8L196 566.8L196.9 566.8L197.8 566.8L198.7 566.8L199.7 566.8L200.6 566.8L201.5 566.8L202.4 566.8L203.3 566.8L204.3 566.8L205.2 566.8L206.1 566.8L207 566.8L207.9 566.8L208.9 566.8L209.8 566.8L210.7 566.8L211.6 566.8L212.5 566.8L213.5 566.8L214.4 566.8L215.3 566.8L216.2 566.8L217.2 566.8L218.1 566.8L219 566.8L219.9 566.8L220.8 566.8L221.8 566.8L222.7 566.8L223.6 566.8L224.5 566.8L225.4 566.8L226.4 566.8L227.3 566.8L228.2 566.8L229.1 566.8L230 566.8L231 566.8L231.9 566.8L232.8 566.8L233.7 566.8L234.6 566.8L235.6 566.8L236.5 566.8L237.4 566.8L238.3 566.8L239.2 566.8L240.2 566.8L241.1 566.8L242 566.8L242 566.8L10 566.8Z" fill="#af2daf" fill-opacity="0.5" stroke="#9a40a0" stroke-opacity="0.45" stroke-width="0.8"/>
<path d="M10 566.8L10.9 566.8L11.8 566.8L12.8 566.8L13.7 566.8L14.6 566.8L15.5 566.8L16.4 566.8L17.4 566.8L18.3 566.8L19.2 566.8L20.1 566.8L21 566.8L22 566.8L22.9 566.8L23.8 566.8L24.7 566.8L25.7 566.8L26.6 566.8L27.5 566.8L28.4 566.8L29.3 566.8L30.3 566.8L31.2 566.8L32.1 566.7L33 566.7L33.9 566.7L34.9 566.7L35.8 566.7L36.7 566.7L37.6 566.7L38.5 566.6L39.5 566.6L40.4 566.6L41.3 566.5L42.2 566.5L43.1 566.4L44.1 566.3L45 566.3L45.9 566.2L46.8 566.1L47.7 566L48.7 565.9L49.6 565.7L50.5 565.6L51.4 565.4L52.4 565.2L53.3 565L54.2 564.7L55.1 564.5L56 564.2L57 563.8L57.9 563.5L58.8 563.1L59.7 562.7L60.6 562.2L61.6 561.7L62.5 561.2L63.4 560.6L64.3 560L65.2 559.3L66.2 558.6L67.1 557.9L68 557.1L68.9 556.3L69.8 555.4L70.8 554.5L71.7 553.6L72.6 552.6L73.5 551.6L74.4 550.5L75.4 549.5L76.3 548.4L77.2 547.3L78.1 546.2L79 545.1L80 544L80.9 542.9L81.8 541.8L82.7 540.7L83.7 539.7L84.6 538.7L85.5 537.7L86.4 536.8L87.3 536L88.3 535.2L89.2 534.4L90.1 533.7L91 533.2L91.9 532.6L92.9 532.2L93.8 531.9L94.7 531.6L95.6 531.5L96.5 531.4L97.5 531.4L98.4 531.6L99.3 531.9L100.2 532.3L101.1 532.9L102.1 533.5L103 534.3L103.9 535.1L104.8 536.1L105.7 537.1L106.7 538.2L107.6 539.3L108.5 540.5L109.4 541.8L110.4 543L111.3 544.3L112.2 545.6L113.1 546.9L114 548.2L115 549.4L115.9 550.7L116.8 551.9L117.7 553L118.6 554.2L119.6 555.2L120.5 556.2L121.4 557.2L122.3 558.1L123.2 559L124.2 559.7L125.1 560.5L126 561.2L126.9 561.8L127.8 562.4L128.8 562.9L129.7 563.3L130.6 563.8L131.5 564.2L132.4 564.5L133.4 564.8L134.3 565.1L135.2 565.3L136.1 565.5L137.1 565.7L138 565.9L138.9 566L139.8 566.1L140.7 566.2L141.7 566.3L142.6 566.4L143.5 566.5L144.4 566.5L145.3 566.6L146.3 566.6L147.2 566.6L148.1 566.7L149 566.7L149.9 566.7L150.9 566.7L151.8 566.7L152.7 566.8L153.6 566.8L154.5 566.8L155.5 566.8L156.4 566.8L157.3 566.8L158.2 566.8L159.1 566.8L160.1 566.8L161 566.8L161.9 566.8L162.8 566.8L163.8 566.8L164.7 566.8L165.6 566.8L166.5 566.8L167.4 566.8L168.4 566.8L169.3 566.8L170.2 566.8L171.1 566.8L172 566.8L173 566.8L173.9 566.8L174.8 566.8L175.7 566.8L176.6 566.8L177.6 566.8L178.5 566.8L179.4 566.8L180.3 566.8L181.2 566.8L182.2 566.8L183.1 566.8L184 566.8L184.9 566.8L185.8 566.8L186.8 566.8L187.7 566.8L188.6 566.8L189.5 566.8L190.5 566.8L191.4 566.8L192.3 566.8L193.2 566.8L194.1 566.8L195.1 566.8L196 566.8L196.9 566.8L197.8 566.8L198.7 566.8L199.7 566.8L200.6 566.8L201.5 566.8L202.4 566.8L203.3 566.8L204.3 566.8L205.2 566.8L206.1 566.8L207 566.8L207.9 566.8L208.9 566.8L209.8 566.8L210.7 566.8L211.6 566.8L212.5 566.8L213.5 566.8L214.4 566.8L215.3 566.8L216.2 566.8L217.2 566.8L218.1 566.8L219 566.8L219.9 566.8L220.8 566.8L221.8 566.8L222.7 566.8L222.7 566.8L10 566.8Z" fill="#37a137" fill-opacity="0.5" stroke="#308030" stroke-opacity="0.45" stroke-width="0.8"/>
<path d="M10 566.8L10.9 566.8L11.8 566.8L12.8 566.8L13.7 566.8L14.6 566.8L15.5 566.8L16.4 566.8L17.4 566.8L18.3 566.8L19.2 566.8L20.1 566.8L21 566.8L22 566.8L22.9 566.8L23.8 566.7L24.7 566.7L25.7 566.7L26.6 566.7L27.5 566.7L28.4 566.7L29.3 566.7L30.3 566.7L31.2 566.6L32.1 566.6L33 566.6L33.9 566.6L34.9 566.5L35.8 566.5L36.7 566.4L37.6 566.4L38.5 566.3L39.5 566.3L40.4 566.2L41.3 566.1L42.2 566L43.1 565.9L44.1 565.8L45 565.7L45.9 565.6L46.8 565.4L47.7 565.3L48.7 565.1L49.6 564.9L50.5 564.7L51.4 564.4L52.4 564.1L53.3 563.8L54.2 563.5L55.1 563.2L56 562.8L57 562.3L57.9 561.9L58.8 561.4L59.7 560.8L60.6 560.3L61.6 559.6L62.5 559L63.4 558.3L64.3 557.5L65.2 556.7L66.2 555.8L67.1 554.9L68 553.9L68.9 552.9L69.8 551.9L70.8 550.8L71.7 549.6L72.6 548.4L73.5 547.2L74.4 545.9L75.4 544.6L76.3 543.3L77.2 541.9L78.1 540.5L79 539.1L80 537.6L80.9 536.1L81.8 534.7L82.7 533.2L83.7 531.7L84.6 530.2L85.5 528.8L86.4 527.3L87.3 525.8L88.3 524.4L89.2 523L90.1 521.6L91 520.3L91.9 518.9L92.9 517.6L93.8 516.4L94.7 515.2L95.6 514L96.5 512.9L97.5 511.8L98.4 510.7L99.3 509.7L100.2 508.8L101.1 507.9L102.1 507.1L103 506.3L103.9 505.6L104.8 504.9L105.7 504.3L106.7 503.8L107.6 503.3L108.5 502.9L109.4 502.5L110.4 502.3L111.3 502L112.2 501.9L113.1 501.8L114 501.8L115 501.9L115.9 502L116.8 502.2L117.7 502.5L118.6 502.8L119.6 503.2L120.5 503.7L121.4 504.2L122.3 504.8L123.2 505.5L124.2 506.2L125.1 506.9L126 507.7L126.9 508.6L127.8 509.4L128.8 510.3L129.7 511.2L130.6 512.2L131.5 513.1L132.4 514L133.4 514.9L134.3 515.8L135.2 516.7L136.1 517.5L137.1 518.3L138 519L138.9 519.6L139.8 520.2L140.7 520.6L141.7 521L142.6 521.2L143.5 521.3L144.4 521.3L145.3 521.2L146.3 520.8L147.2 520.4L148.1 519.7L149 518.9L149.9 517.9L150.9 516.7L151.8 515.3L152.7 513.7L153.6 511.9L154.5 509.9L155.5 507.7L156.4 505.3L157.3 502.8L158.2 500L159.1 497.1L160.1 494L161 490.7L161.9 487.3L162.8 483.8L163.8 480.2L164.7 476.5L165.6 472.7L166.5 468.8L167.4 464.9L168.4 461L169.3 457.1L170.2 453.2L171.1 449.4L172 445.6L173 441.9L173.9 438.2L174.8 434.7L175.7 431.2L176.6 427.9L177.6 424.6L178.5 421.5L179.4 418.4L180.3 415.4L181.2 412.4L182.2 409.5L183.1 406.7L184 403.8L184.9 401L185.8 398.2L186.8 395.4L187.7 392.7L188.6 389.9L189.5 387.3L190.5 384.7L191.4 382.3L192.3 380.2L193.2 378.3L194.1 376.7L195.1 375.5L196 374.9L196.9 374.8L197.8 375.3L198.7 376.5L199.7 378.5L200.6 381.2L201.5 384.7L202.4 389L203.3 394.1L204.3 399.9L205.2 406.4L206.1 413.4L207 421L207.9 429L208.9 437.3L209.8 445.8L210.7 454.4L211.6 462.9L212.5 471.4L213.5 479.7L214.4 487.7L215.3 495.3L216.2 502.6L217.2 509.4L218.1 515.7L219 521.5L219.9 526.8L220.8 531.7L221.8 536L222.7 539.9L223.6 543.4L224.5 546.5L225.4 549.2L226.4 551.6L227.3 553.7L228.2 555.5L229.1 557.1L230 558.4L231 559.6L231.9 560.6L232.8 561.5L233.7 562.2L234.6 562.9L235.6 563.4L236.5 563.9L237.4 564.3L238.3 564.7L239.2 565L240.2 565.3L241.1 565.5L242 565.7L242.9 565.8L243.8 566L244.8 566.1L245.7 566.2L246.6 566.3L247.5 566.4L248.5 566.5L249.4 566.5L250.3 566.6L251.2 566.6L252.1 566.6L253.1 566.7L254 566.7L254.9 566.7L255.8 566.7L256.7 566.7L257.7 566.7L258.6 566.8L259.5 566.8L260.4 566.8L261.3 566.8L262.3 566.8L263.2 566.8L264.1 566.8L265 566.8L265.9 566.8L266.9 566.8L267.8 566.8L268.7 566.8L269.6 566.8L270.5 566.8L271.5 566.8L272.4 566.8L273.3 566.8L274.2 566.8L275.2 566.8L276.1 566.8L277 566.8L277.9 566.8L278.8 566.8L279.8 566.8L280.7 566.8L281.6 566.8L282.5 566.8L283.4 566.8L284.4 566.8L285.3 566.8L286.2 566.8" fill="none" stroke="#1a1af5" stroke-width="1.8"/>
<circle cx="12.5" cy="556.3" r="1.75" fill="#fff" fill-opacity="0.8" stroke="#5c5cf0" stroke-width="0.85"/>
<circle cx="17" cy="560" r="1.75" fill="#fff" fill-opacity="0.8" stroke="#5c5cf0" stroke-width="0.85"/>
<circle cx="14.2" cy="568.3" r="1.75" fill="#fff" fill-opacity="0.8" stroke="#5c5cf0" stroke-width="0.85"/>
<circle cx="10.8" cy="570" r="1.75" fill="#fff" fill-opacity="0.8" stroke="#5c5cf0" stroke-width="0.85"/>
<circle cx="19.2" cy="571.7" r="1.75" fill="#fff" fill-opacity="0.8" stroke="#5c5cf0" stroke-width="0.85"/>
<circle cx="25" cy="574.2" r="1.75" fill="#fff" fill-opacity="0.8" stroke="#5c5cf0" stroke-width="0.85"/>
<circle cx="26.7" cy="568.7" r="1.75" fill="#fff" fill-opacity="0.8" stroke="#5c5cf0" stroke-width="0.85"/>
<circle cx="29.2" cy="565.8" r="1.75" fill="#fff" fill-opacity="0.8" stroke="#5c5cf0" stroke-width="0.85"/>
<circle cx="30.8" cy="560.8" r="1.75" fill="#fff" fill-opacity="0.8" stroke="#5c5cf0" stroke-width="0.85"/>
<circle cx="34.7" cy="560" r="1.75" fill="#fff" fill-opacity="0.8" stroke="#5c5cf0" stroke-width="0.85"/>
<circle cx="40.3" cy="558" r="1.75" fill="#fff" fill-opacity="0.8" stroke="#5c5cf0" stroke-width="0.85"/>
<circle cx="32.5" cy="572" r="1.75" fill="#fff" fill-opacity="0.8" stroke="#5c5cf0" stroke-width="0.85"/>
<circle cx="36.3" cy="575.8" r="1.75" fill="#fff" fill-opacity="0.8" stroke="#5c5cf0" stroke-width="0.85"/>
<circle cx="38.3" cy="570.8" r="1.75" fill="#fff" fill-opacity="0.8" stroke="#5c5cf0" stroke-width="0.85"/>
<circle cx="42.5" cy="567.5" r="1.75" fill="#fff" fill-opacity="0.8" stroke="#5c5cf0" stroke-width="0.85"/>
<circle cx="44.7" cy="563" r="1.75" fill="#fff" fill-opacity="0.8" stroke="#5c5cf0" stroke-width="0.85"/>
<circle cx="48.3" cy="570" r="1.75" fill="#fff" fill-opacity="0.8" stroke="#5c5cf0" stroke-width="0.85"/>
<circle cx="50" cy="566.7" r="1.75" fill="#fff" fill-opacity="0.8" stroke="#5c5cf0" stroke-width="0.85"/>
<circle cx="54.2" cy="563" r="1.75" fill="#fff" fill-opacity="0.8" stroke="#5c5cf0" stroke-width="0.85"/>
<circle cx="56.7" cy="570.8" r="1.75" fill="#fff" fill-opacity="0.8" stroke="#5c5cf0" stroke-width="0.85"/>
<circle cx="60" cy="574.2" r="1.75" fill="#fff" fill-opacity="0.8" stroke="#5c5cf0" stroke-width="0.85"/>
<circle cx="62.5" cy="561.7" r="1.75" fill="#fff" fill-opacity="0.8" stroke="#5c5cf0" stroke-width="0.85"/>
<circle cx="58.3" cy="551.3" r="1.75" fill="#fff" fill-opacity="0.8" stroke="#5c5cf0" stroke-width="0.85"/>
<circle cx="68.3" cy="558" r="1.75" fill="#fff" fill-opacity="0.8" stroke="#5c5cf0" stroke-width="0.85"/>
<circle cx="66.7" cy="545" r="1.75" fill="#fff" fill-opacity="0.8" stroke="#5c5cf0" stroke-width="0.85"/>
<circle cx="70.3" cy="540.3" r="1.75" fill="#fff" fill-opacity="0.8" stroke="#5c5cf0" stroke-width="0.85"/>
<circle cx="72" cy="547" r="1.75" fill="#fff" fill-opacity="0.8" stroke="#5c5cf0" stroke-width="0.85"/>
<circle cx="74.2" cy="535.3" r="1.75" fill="#fff" fill-opacity="0.8" stroke="#5c5cf0" stroke-width="0.85"/>
<circle cx="76.3" cy="553.3" r="1.75" fill="#fff" fill-opacity="0.8" stroke="#5c5cf0" stroke-width="0.85"/>
<circle cx="80" cy="525.8" r="1.75" fill="#fff" fill-opacity="0.8" stroke="#5c5cf0" stroke-width="0.85"/>
<circle cx="82" cy="533.7" r="1.75" fill="#fff" fill-opacity="0.8" stroke="#5c5cf0" stroke-width="0.85"/>
<circle cx="85.8" cy="527.5" r="1.75" fill="#fff" fill-opacity="0.8" stroke="#5c5cf0" stroke-width="0.85"/>
<circle cx="88" cy="540.8" r="1.75" fill="#fff" fill-opacity="0.8" stroke="#5c5cf0" stroke-width="0.85"/>
<circle cx="90" cy="525" r="1.75" fill="#fff" fill-opacity="0.8" stroke="#5c5cf0" stroke-width="0.85"/>
<circle cx="92" cy="513.3" r="1.75" fill="#fff" fill-opacity="0.8" stroke="#5c5cf0" stroke-width="0.85"/>
<circle cx="93.3" cy="518.3" r="1.75" fill="#fff" fill-opacity="0.8" stroke="#5c5cf0" stroke-width="0.85"/>
<circle cx="96.3" cy="513.3" r="1.75" fill="#fff" fill-opacity="0.8" stroke="#5c5cf0" stroke-width="0.85"/>
<circle cx="97.5" cy="516.7" r="1.75" fill="#fff" fill-opacity="0.8" stroke="#5c5cf0" stroke-width="0.85"/>
<circle cx="101.7" cy="521.3" r="1.75" fill="#fff" fill-opacity="0.8" stroke="#5c5cf0" stroke-width="0.85"/>
<circle cx="100" cy="511.7" r="1.75" fill="#fff" fill-opacity="0.8" stroke="#5c5cf0" stroke-width="0.85"/>
<circle cx="105" cy="497.5" r="1.75" fill="#fff" fill-opacity="0.8" stroke="#5c5cf0" stroke-width="0.85"/>
<circle cx="108" cy="501.3" r="1.75" fill="#fff" fill-opacity="0.8" stroke="#5c5cf0" stroke-width="0.85"/>
<circle cx="103.3" cy="505" r="1.75" fill="#fff" fill-opacity="0.8" stroke="#5c5cf0" stroke-width="0.85"/>
<circle cx="115.6" cy="485.8" r="1.75" fill="#fff" fill-opacity="0.8" stroke="#5c5cf0" stroke-width="0.85"/>
<circle cx="112.8" cy="489.5" r="1.75" fill="#fff" fill-opacity="0.8" stroke="#5c5cf0" stroke-width="0.85"/>
<circle cx="110.1" cy="492.2" r="1.75" fill="#fff" fill-opacity="0.8" stroke="#5c5cf0" stroke-width="0.85"/>
<circle cx="105.5" cy="497.7" r="1.75" fill="#fff" fill-opacity="0.8" stroke="#5c5cf0" stroke-width="0.85"/>
<circle cx="107.3" cy="500.4" r="1.75" fill="#fff" fill-opacity="0.8" stroke="#5c5cf0" stroke-width="0.85"/>
<circle cx="103.3" cy="504.1" r="1.75" fill="#fff" fill-opacity="0.8" stroke="#5c5cf0" stroke-width="0.85"/>
<circle cx="111.4" cy="505.9" r="1.75" fill="#fff" fill-opacity="0.8" stroke="#5c5cf0" stroke-width="0.85"/>
<circle cx="125.3" cy="487.6" r="1.75" fill="#fff" fill-opacity="0.8" stroke="#5c5cf0" stroke-width="0.85"/>
<circle cx="133.3" cy="494.6" r="1.75" fill="#fff" fill-opacity="0.8" stroke="#5c5cf0" stroke-width="0.85"/>
<circle cx="121.6" cy="504.1" r="1.75" fill="#fff" fill-opacity="0.8" stroke="#5c5cf0" stroke-width="0.85"/>
<circle cx="123.4" cy="507.8" r="1.75" fill="#fff" fill-opacity="0.8" stroke="#5c5cf0" stroke-width="0.85"/>
<circle cx="127.5" cy="510.5" r="1.75" fill="#fff" fill-opacity="0.8" stroke="#5c5cf0" stroke-width="0.85"/>
<circle cx="130.2" cy="516.6" r="1.75" fill="#fff" fill-opacity="0.8" stroke="#5c5cf0" stroke-width="0.85"/>
<circle cx="131.1" cy="518.4" r="1.75" fill="#fff" fill-opacity="0.8" stroke="#5c5cf0" stroke-width="0.85"/>
<circle cx="141.2" cy="514.7" r="1.75" fill="#fff" fill-opacity="0.8" stroke="#5c5cf0" stroke-width="0.85"/>
<circle cx="143" cy="520.6" r="1.75" fill="#fff" fill-opacity="0.8" stroke="#5c5cf0" stroke-width="0.85"/>
<circle cx="148.5" cy="507.8" r="1.75" fill="#fff" fill-opacity="0.8" stroke="#5c5cf0" stroke-width="0.85"/>
<circle cx="150.4" cy="510" r="1.75" fill="#fff" fill-opacity="0.8" stroke="#5c5cf0" stroke-width="0.85"/>
<circle cx="153.1" cy="522" r="1.75" fill="#fff" fill-opacity="0.8" stroke="#5c5cf0" stroke-width="0.85"/>
<circle cx="157.1" cy="524.6" r="1.75" fill="#fff" fill-opacity="0.8" stroke="#5c5cf0" stroke-width="0.85"/>
<circle cx="147.3" cy="527.5" r="1.75" fill="#fff" fill-opacity="0.8" stroke="#5c5cf0" stroke-width="0.85"/>
<circle cx="144.9" cy="532.5" r="1.75" fill="#fff" fill-opacity="0.8" stroke="#5c5cf0" stroke-width="0.85"/>
<circle cx="135.7" cy="529.4" r="1.75" fill="#fff" fill-opacity="0.8" stroke="#5c5cf0" stroke-width="0.85"/>
<circle cx="138.8" cy="529.7" r="1.75" fill="#fff" fill-opacity="0.8" stroke="#5c5cf0" stroke-width="0.85"/>
<circle cx="116.8" cy="526.1" r="1.75" fill="#fff" fill-opacity="0.8" stroke="#5c5cf0" stroke-width="0.85"/>
<circle cx="119.2" cy="523.9" r="1.75" fill="#fff" fill-opacity="0.8" stroke="#5c5cf0" stroke-width="0.85"/>
<circle cx="101.8" cy="521.5" r="1.75" fill="#fff" fill-opacity="0.8" stroke="#5c5cf0" stroke-width="0.85"/>
<circle cx="154.6" cy="479.9" r="1.75" fill="#fff" fill-opacity="0.8" stroke="#5c5cf0" stroke-width="0.85"/>
<circle cx="159" cy="478.1" r="1.75" fill="#fff" fill-opacity="0.8" stroke="#5c5cf0" stroke-width="0.85"/>
<circle cx="164.1" cy="484" r="1.75" fill="#fff" fill-opacity="0.8" stroke="#5c5cf0" stroke-width="0.85"/>
<circle cx="160.4" cy="491.6" r="1.75" fill="#fff" fill-opacity="0.8" stroke="#5c5cf0" stroke-width="0.85"/>
<circle cx="168.7" cy="467.1" r="1.75" fill="#fff" fill-opacity="0.8" stroke="#5c5cf0" stroke-width="0.85"/>
<circle cx="166.8" cy="452.8" r="1.75" fill="#fff" fill-opacity="0.8" stroke="#5c5cf0" stroke-width="0.85"/>
<circle cx="170.5" cy="458" r="1.75" fill="#fff" fill-opacity="0.8" stroke="#5c5cf0" stroke-width="0.85"/>
<circle cx="172.9" cy="458" r="1.75" fill="#fff" fill-opacity="0.8" stroke="#5c5cf0" stroke-width="0.85"/>
<circle cx="198.5" cy="361.5" r="1.75" fill="#fff" fill-opacity="0.8" stroke="#5c5cf0" stroke-width="0.85"/>
<circle cx="190.2" cy="379.8" r="1.75" fill="#fff" fill-opacity="0.8" stroke="#5c5cf0" stroke-width="0.85"/>
<circle cx="184.4" cy="383.9" r="1.75" fill="#fff" fill-opacity="0.8" stroke="#5c5cf0" stroke-width="0.85"/>
<circle cx="203.1" cy="377.8" r="1.75" fill="#fff" fill-opacity="0.8" stroke="#5c5cf0" stroke-width="0.85"/>
<circle cx="204.6" cy="377.8" r="1.75" fill="#fff" fill-opacity="0.8" stroke="#5c5cf0" stroke-width="0.85"/>
<circle cx="193.9" cy="387.4" r="1.75" fill="#fff" fill-opacity="0.8" stroke="#5c5cf0" stroke-width="0.85"/>
<circle cx="188.2" cy="391.5" r="1.75" fill="#fff" fill-opacity="0.8" stroke="#5c5cf0" stroke-width="0.85"/>
<circle cx="192.4" cy="392.7" r="1.75" fill="#fff" fill-opacity="0.8" stroke="#5c5cf0" stroke-width="0.85"/>
<circle cx="196.6" cy="391.2" r="1.75" fill="#fff" fill-opacity="0.8" stroke="#5c5cf0" stroke-width="0.85"/>
<circle cx="186.3" cy="396.6" r="1.75" fill="#fff" fill-opacity="0.8" stroke="#5c5cf0" stroke-width="0.85"/>
<circle cx="182.6" cy="407.7" r="1.75" fill="#fff" fill-opacity="0.8" stroke="#5c5cf0" stroke-width="0.85"/>
<circle cx="202" cy="411.8" r="1.75" fill="#fff" fill-opacity="0.8" stroke="#5c5cf0" stroke-width="0.85"/>
<circle cx="205.8" cy="408" r="1.75" fill="#fff" fill-opacity="0.8" stroke="#5c5cf0" stroke-width="0.85"/>
<circle cx="176.8" cy="426.6" r="1.75" fill="#fff" fill-opacity="0.8" stroke="#5c5cf0" stroke-width="0.85"/>
<circle cx="180.2" cy="427.9" r="1.75" fill="#fff" fill-opacity="0.8" stroke="#5c5cf0" stroke-width="0.85"/>
<circle cx="174.5" cy="432.4" r="1.75" fill="#fff" fill-opacity="0.8" stroke="#5c5cf0" stroke-width="0.85"/>
<circle cx="178.6" cy="438.5" r="1.75" fill="#fff" fill-opacity="0.8" stroke="#5c5cf0" stroke-width="0.85"/>
<circle cx="208.1" cy="434.7" r="1.75" fill="#fff" fill-opacity="0.8" stroke="#5c5cf0" stroke-width="0.85"/>
<circle cx="210.2" cy="454.9" r="1.75" fill="#fff" fill-opacity="0.8" stroke="#5c5cf0" stroke-width="0.85"/>
<circle cx="212" cy="469.8" r="1.75" fill="#fff" fill-opacity="0.8" stroke="#5c5cf0" stroke-width="0.85"/>
<circle cx="213.9" cy="480.1" r="1.75" fill="#fff" fill-opacity="0.8" stroke="#5c5cf0" stroke-width="0.85"/>
<circle cx="216.2" cy="489.2" r="1.75" fill="#fff" fill-opacity="0.8" stroke="#5c5cf0" stroke-width="0.85"/>
<circle cx="220" cy="529.3" r="1.75" fill="#fff" fill-opacity="0.8" stroke="#5c5cf0" stroke-width="0.85"/>
<circle cx="217.8" cy="534.3" r="1.75" fill="#fff" fill-opacity="0.8" stroke="#5c5cf0" stroke-width="0.85"/>
<circle cx="223.9" cy="534.3" r="1.75" fill="#fff" fill-opacity="0.8" stroke="#5c5cf0" stroke-width="0.85"/>
<circle cx="227.6" cy="555.6" r="1.75" fill="#fff" fill-opacity="0.8" stroke="#5c5cf0" stroke-width="0.85"/>
<circle cx="233.8" cy="551.7" r="1.75" fill="#fff" fill-opacity="0.8" stroke="#5c5cf0" stroke-width="0.85"/>
<circle cx="225.8" cy="565.5" r="1.75" fill="#fff" fill-opacity="0.8" stroke="#5c5cf0" stroke-width="0.85"/>
<circle cx="230.3" cy="566" r="1.75" fill="#fff" fill-opacity="0.8" stroke="#5c5cf0" stroke-width="0.85"/>
<circle cx="236.1" cy="563.7" r="1.75" fill="#fff" fill-opacity="0.8" stroke="#5c5cf0" stroke-width="0.85"/>
<circle cx="239.5" cy="560.2" r="1.75" fill="#fff" fill-opacity="0.8" stroke="#5c5cf0" stroke-width="0.85"/>
<circle cx="241.8" cy="559.5" r="1.75" fill="#fff" fill-opacity="0.8" stroke="#5c5cf0" stroke-width="0.85"/>
<circle cx="244.1" cy="568.2" r="1.75" fill="#fff" fill-opacity="0.8" stroke="#5c5cf0" stroke-width="0.85"/>
<circle cx="247.5" cy="569.4" r="1.75" fill="#fff" fill-opacity="0.8" stroke="#5c5cf0" stroke-width="0.85"/>
<circle cx="251" cy="566.4" r="1.75" fill="#fff" fill-opacity="0.8" stroke="#5c5cf0" stroke-width="0.85"/>
<circle cx="245.9" cy="575.1" r="1.75" fill="#fff" fill-opacity="0.8" stroke="#5c5cf0" stroke-width="0.85"/>
<circle cx="253.2" cy="574" r="1.75" fill="#fff" fill-opacity="0.8" stroke="#5c5cf0" stroke-width="0.85"/>
<circle cx="255.5" cy="557.9" r="1.75" fill="#fff" fill-opacity="0.8" stroke="#5c5cf0" stroke-width="0.85"/>
<circle cx="261.3" cy="556.8" r="1.75" fill="#fff" fill-opacity="0.8" stroke="#5c5cf0" stroke-width="0.85"/>
<circle cx="259" cy="572.4" r="1.75" fill="#fff" fill-opacity="0.8" stroke="#5c5cf0" stroke-width="0.85"/>
<circle cx="263.6" cy="564.8" r="1.75" fill="#fff" fill-opacity="0.8" stroke="#5c5cf0" stroke-width="0.85"/>
<circle cx="265.8" cy="567.8" r="1.75" fill="#fff" fill-opacity="0.8" stroke="#5c5cf0" stroke-width="0.85"/>
<circle cx="271.6" cy="561.4" r="1.75" fill="#fff" fill-opacity="0.8" stroke="#5c5cf0" stroke-width="0.85"/>
<circle cx="274.3" cy="560.9" r="1.75" fill="#fff" fill-opacity="0.8" stroke="#5c5cf0" stroke-width="0.85"/>
<circle cx="273.4" cy="571.7" r="1.75" fill="#fff" fill-opacity="0.8" stroke="#5c5cf0" stroke-width="0.85"/>
<circle cx="278.9" cy="563.7" r="1.75" fill="#fff" fill-opacity="0.8" stroke="#5c5cf0" stroke-width="0.85"/>
<circle cx="283" cy="566" r="1.75" fill="#fff" fill-opacity="0.8" stroke="#5c5cf0" stroke-width="0.85"/>
<circle cx="281.2" cy="577.4" r="1.75" fill="#fff" fill-opacity="0.8" stroke="#5c5cf0" stroke-width="0.85"/>
<circle cx="284.2" cy="572.8" r="1.75" fill="#fff" fill-opacity="0.8" stroke="#5c5cf0" stroke-width="0.85"/>
</g>
<rect x="10" y="330.3" width="276.2" height="260.2" fill="none" stroke="#1a1a1a" stroke-width="1.4"/>
<path d="M10 590.5V587.7M29.7 590.5V585.3M49.5 590.5V587.7M69.2 590.5V585.3M88.9 590.5V587.7M108.6 590.5V585.3M128.4 590.5V587.7M148.1 590.5V585.3M167.8 590.5V587.7M187.6 590.5V585.3M207.3 590.5V587.7M227 590.5V585.3M246.7 590.5V587.7M266.5 590.5V585.3M286.2 590.5V587.7" stroke="#1a1a1a" stroke-width="1.3" fill="none"/>
<text transform="translate(29.7 605.5) scale(1.07 1)" font-family="Liberation Sans, sans-serif" font-size="11.3" text-anchor="middle" fill="#1a1a1a" stroke="#1a1a1a" stroke-width="0.22">172</text>
<text transform="translate(69.2 605.5) scale(1.07 1)" font-family="Liberation Sans, sans-serif" font-size="11.3" text-anchor="middle" fill="#1a1a1a" stroke="#1a1a1a" stroke-width="0.22">170</text>
<text transform="translate(108.6 605.5) scale(1.07 1)" font-family="Liberation Sans, sans-serif" font-size="11.3" text-anchor="middle" fill="#1a1a1a" stroke="#1a1a1a" stroke-width="0.22">168</text>
<text transform="translate(148.1 605.5) scale(1.07 1)" font-family="Liberation Sans, sans-serif" font-size="11.3" text-anchor="middle" fill="#1a1a1a" stroke="#1a1a1a" stroke-width="0.22">166</text>
<text transform="translate(187.6 605.5) scale(1.07 1)" font-family="Liberation Sans, sans-serif" font-size="11.3" text-anchor="middle" fill="#1a1a1a" stroke="#1a1a1a" stroke-width="0.22">164</text>
<text transform="translate(227 605.5) scale(1.07 1)" font-family="Liberation Sans, sans-serif" font-size="11.3" text-anchor="middle" fill="#1a1a1a" stroke="#1a1a1a" stroke-width="0.22">162</text>
<text transform="translate(266.5 605.5) scale(1.07 1)" font-family="Liberation Sans, sans-serif" font-size="11.3" text-anchor="middle" fill="#1a1a1a" stroke="#1a1a1a" stroke-width="0.22">160</text>
<text transform="translate(243.1 352) scale(1.12 1)" font-family="Liberation Sans, sans-serif" font-size="14" text-anchor="start" fill="#1a1a1a" stroke="#1a1a1a" stroke-width="0.15">S 2p</text>
<text transform="translate(44.5 503.2) scale(1.09 1)" font-family="Liberation Sans, sans-serif" font-size="10" text-anchor="start" fill="#1a1a1a" stroke="#1a1a1a" stroke-width="0.12">168.6</text>
<path d="M67.2 508.3L73 516" stroke="#1a1a1a" stroke-width="1"/>
<path d="M76 520L71.1 517.4L74.9 514.6Z" fill="#1a1a1a"/>
<text transform="translate(80.7 472.6) scale(1.09 1)" font-family="Liberation Sans, sans-serif" font-size="10" text-anchor="start" fill="#1a1a1a" stroke="#1a1a1a" stroke-width="0.12">167.2</text>
<path d="M94 477.5L100.6 487.8" stroke="#1a1a1a" stroke-width="1"/>
<path d="M103.3 492L98.6 489.1L102.6 486.5Z" fill="#1a1a1a"/>
<text transform="translate(127.7 443.3) scale(1.09 1)" font-family="Liberation Sans, sans-serif" font-size="10" text-anchor="start" fill="#1a1a1a" stroke="#1a1a1a" stroke-width="0.12">164.6</text>
<path d="M150.3 448L155.7 455.9" stroke="#1a1a1a" stroke-width="1"/>
<path d="M158.5 460L153.7 457.2L157.7 454.5Z" fill="#1a1a1a"/>
<text transform="translate(222.2 405.3) scale(1.09 1)" font-family="Liberation Sans, sans-serif" font-size="10" text-anchor="start" fill="#1a1a1a" stroke="#1a1a1a" stroke-width="0.12">163.4</text>
<path d="M223.8 409.5L216.5 418.4" stroke="#1a1a1a" stroke-width="1"/>
<path d="M213.3 422.3L214.6 416.9L218.3 420Z" fill="#1a1a1a"/>
<g fill="#222" stroke="#222" stroke-width="0.35" font-family="Liberation Sans, sans-serif">
<text x="120.5" y="628" font-size="12" letter-spacing="-0.2">结合能</text>
<text x="160.1" y="628.5" font-size="13.5" stroke-width="0">(</text>
<text x="168.5" y="629" font-size="13.2">eV</text>
<text x="188.9" y="628.5" font-size="13.5" stroke-width="0">)</text>
</g>
<text x="147.8" y="650" font-family="Liberation Serif, serif" font-size="16" text-anchor="middle" fill="#111">(<tspan font-weight="bold">c</tspan>)</text>
<clipPath id="cp4"><rect x="312.5" y="328" width="278.3" height="263.7"/></clipPath>
<g clip-path="url(#cp4)">
<path d="M342.2 568L343.1 568L344 568L345 568L345.9 568L346.8 568L347.8 568L348.7 568L349.6 568L350.5 568L351.5 568L352.4 568L353.3 568L354.2 568L355.2 568L356.1 568L357 568L358 568L358.9 568L359.8 568L360.7 568L361.7 568L362.6 568L363.5 568L364.4 568L365.4 568L366.3 568L367.2 568L368.2 568L369.1 568L370 568L370.9 568L371.9 568L372.8 568L373.7 568L374.7 568L375.6 568L376.5 568L377.4 568L378.4 568L379.3 568L380.2 568L381.1 568L382.1 568L383 568L383.9 568L384.9 568L385.8 568L386.7 568L387.6 568L388.6 568L389.5 568L390.4 568L391.4 568L392.3 568L393.2 568L394.1 568L395.1 568L396 568L396.9 568L397.8 568L398.8 568L399.7 568L400.6 568L401.6 568L402.5 568L403.4 568L404.3 568L405.3 568L406.2 568L407.1 568L408 568L409 568L409.9 568L410.8 568L411.8 568L412.7 568L413.6 568L414.5 568L415.5 568L416.4 568L417.3 568L418.3 568L419.2 568L420.1 568L421 567.9L422 567.9L422.9 567.9L423.8 567.9L424.7 567.9L425.7 567.9L426.6 567.9L427.5 567.9L428.5 567.8L429.4 567.8L430.3 567.8L431.2 567.8L432.2 567.7L433.1 567.7L434 567.6L435 567.6L435.9 567.5L436.8 567.5L437.7 567.4L438.7 567.3L439.6 567.3L440.5 567.2L441.4 567.1L442.4 567L443.3 566.8L444.2 566.7L445.2 566.6L446.1 566.4L447 566.2L447.9 566L448.9 565.8L449.8 565.6L450.7 565.3L451.6 565L452.6 564.7L453.5 564.4L454.4 564.1L455.4 563.7L456.3 563.3L457.2 562.9L458.1 562.4L459.1 561.9L460 561.3L460.9 560.8L461.9 560.2L462.8 559.5L463.7 558.8L464.6 558.1L465.6 557.3L466.5 556.5L467.4 555.6L468.3 554.7L469.3 553.7L470.2 552.7L471.1 551.7L472.1 550.6L473 549.5L473.9 548.3L474.8 547L475.8 545.7L476.7 544.4L477.6 543.1L478.6 541.6L479.5 540.2L480.4 538.7L481.3 537.2L482.3 535.7L483.2 534.1L484.1 532.5L485 530.9L486 529.2L486.9 527.6L487.8 525.9L488.8 524.3L489.7 522.6L490.6 520.9L491.5 519.3L492.5 517.7L493.4 516.1L494.3 514.5L495.3 512.9L496.2 511.4L497.1 510L498 508.6L499 507.2L499.9 505.9L500.8 504.7L501.7 503.5L502.7 502.4L503.6 501.4L504.5 500.5L505.5 499.7L506.4 498.9L507.3 498.3L508.2 497.7L509.2 497.3L510.1 496.9L511 496.7L511.9 496.5L512.9 496.5L513.8 496.6L514.7 496.8L515.7 497.1L516.6 497.6L517.5 498.1L518.4 498.8L519.4 499.6L520.3 500.6L521.2 501.6L522.2 502.7L523.1 503.9L524 505.2L524.9 506.6L525.9 508.1L526.8 509.6L527.7 511.2L528.6 512.8L529.6 514.5L530.5 516.2L531.4 518L532.4 519.8L533.3 521.6L534.2 523.4L535.1 525.2L536.1 527.1L537 528.9L537.9 530.7L538.9 532.4L539.8 534.2L540.7 535.9L541.6 537.6L542.6 539.3L543.5 540.9L544.4 542.4L545.3 543.9L546.3 545.4L547.2 546.8L548.1 548.2L549.1 549.5L550 550.7L550.9 551.9L551.8 553.1L552.8 554.2L553.7 555.2L554.6 556.2L555.5 557.1L556.5 557.9L557.4 558.7L558.3 559.5L559.3 560.2L560.2 560.9L561.1 561.5L562 562.1L563 562.6L563.9 563.1L564.8 563.6L565.8 564L566.7 564.4L567.6 564.7L568.5 565.1L569.5 565.4L570.4 565.6L571.3 565.9L572.2 566.1L573.2 566.3L574.1 566.5L575 566.7L576 566.8L576.9 566.9L577.8 567.1L578.7 567.2L579.7 567.3L580.6 567.4L581.5 567.4L582.5 567.5L583.4 567.6L584.3 567.6L585.2 567.7L586.2 567.7L587.1 567.8L588 567.8L588.9 567.8L589.9 567.8L590.8 567.9L590.8 568L342.2 568Z" fill="#af2daf" fill-opacity="0.5" stroke="#9a40a0" stroke-opacity="0.45" stroke-width="0.8"/>
<path d="M312.5 568L313.4 568L314.4 568L315.3 568L316.2 568L317.1 568L318.1 568L319 568L319.9 568L320.8 568L321.8 568L322.7 568L323.6 568L324.6 568L325.5 568L326.4 568L327.3 568L328.3 568L329.2 568L330.1 568L331.1 568L332 568L332.9 568L333.8 568L334.8 568L335.7 568L336.6 568L337.5 568L338.5 568L339.4 568L340.3 568L341.3 568L342.2 568L343.1 568L344 568L345 568L345.9 568L346.8 568L347.8 568L348.7 568L349.6 568L350.5 568L351.5 568L352.4 568L353.3 568L354.2 568L355.2 568L356.1 568L357 568L358 568L358.9 567.9L359.8 567.9L360.7 567.9L361.7 567.9L362.6 567.9L363.5 567.8L364.4 567.8L365.4 567.8L366.3 567.7L367.2 567.7L368.2 567.6L369.1 567.5L370 567.5L370.9 567.4L371.9 567.2L372.8 567.1L373.7 567L374.7 566.8L375.6 566.6L376.5 566.4L377.4 566.1L378.4 565.8L379.3 565.5L380.2 565.1L381.1 564.6L382.1 564.2L383 563.6L383.9 563L384.9 562.4L385.8 561.6L386.7 560.8L387.6 559.9L388.6 559L389.5 557.9L390.4 556.8L391.4 555.5L392.3 554.2L393.2 552.7L394.1 551.2L395.1 549.5L396 547.7L396.9 545.9L397.8 543.9L398.8 541.8L399.7 539.6L400.6 537.4L401.6 535L402.5 532.6L403.4 530.1L404.3 527.5L405.3 524.9L406.2 522.2L407.1 519.5L408 516.8L409 514.1L409.9 511.4L410.8 508.8L411.8 506.2L412.7 503.7L413.6 501.3L414.5 498.9L415.5 496.7L416.4 494.6L417.3 492.7L418.3 491L419.2 489.4L420.1 488L421 486.9L422 485.9L422.9 485.2L423.8 484.7L424.7 484.4L425.7 484.4L426.6 484.6L427.5 485.1L428.5 485.8L429.4 486.7L430.3 487.8L431.2 489.1L432.2 490.7L433.1 492.4L434 494.3L435 496.3L435.9 498.5L436.8 500.8L437.7 503.2L438.7 505.7L439.6 508.3L440.5 510.9L441.4 513.6L442.4 516.3L443.3 519L444.2 521.7L445.2 524.4L446.1 527L447 529.6L447.9 532.1L448.9 534.6L449.8 536.9L450.7 539.2L451.6 541.4L452.6 543.5L453.5 545.5L454.4 547.4L455.4 549.2L456.3 550.8L457.2 552.4L458.1 553.9L459.1 555.3L460 556.5L460.9 557.7L461.9 558.8L462.8 559.8L463.7 560.7L464.6 561.5L465.6 562.2L466.5 562.9L467.4 563.5L468.3 564.1L469.3 564.6L470.2 565L471.1 565.4L472.1 565.7L473 566L473.9 566.3L474.8 566.5L475.8 566.7L476.7 566.9L477.6 567.1L478.6 567.2L479.5 567.3L480.4 567.4L481.3 567.5L482.3 567.6L483.2 567.7L484.1 567.7L485 567.8L486 567.8L486.9 567.8L487.8 567.9L488.8 567.9L489.7 567.9L490.6 567.9L491.5 567.9L492.5 568L493.4 568L494.3 568L495.3 568L496.2 568L497.1 568L498 568L499 568L499.9 568L500.8 568L501.7 568L502.7 568L503.6 568L504.5 568L505.5 568L506.4 568L507.3 568L508.2 568L509.2 568L510.1 568L511 568L511.9 568L512.9 568L513.8 568L514.7 568L515.7 568L516.6 568L517.5 568L518.4 568L519.4 568L520.3 568L521.2 568L522.2 568L523.1 568L524 568L524.9 568L525.9 568L526.8 568L527.7 568L528.6 568L529.6 568L530.5 568L531.4 568L532.4 568L533.3 568L534.2 568L535.1 568L536.1 568L537 568L537.9 568L538.9 568L539.8 568L540.7 568L541.6 568L542.6 568L543.5 568L544.4 568L545.3 568L546.3 568L547.2 568L548.1 568L548.1 568L312.5 568Z" fill="#37a137" fill-opacity="0.5" stroke="#308030" stroke-opacity="0.45" stroke-width="0.8"/>
<path d="M312.5 568L313.4 568L314.4 568L315.3 568L316.2 568L317.1 568L318.1 568L319 568L319.9 568L320.8 568L321.8 568L322.7 568L323.6 568L324.6 568L325.5 568L326.4 568L327.3 568L328.3 568L329.2 568L330.1 568L331.1 568L332 568L332.9 568L333.8 568L334.8 568L335.7 568L336.6 568L337.5 568L338.5 568L339.4 568L340.3 568L341.3 568L342.2 568L343.1 568L344 568L345 568L345.9 568L346.8 568L347.8 568L348.7 568L349.6 568L350.5 568L351.5 568L352.4 568L353.3 568L354.2 568L355.2 568L356.1 568L357 568L358 568L358.9 568L359.8 568L360.7 568L361.7 568L362.6 568L363.5 568L364.4 568L365.4 568L366.3 568L367.2 568L368.2 568L369.1 568L370 568L370.9 568L371.9 568L372.8 568L373.7 568L374.7 568L375.6 568L376.5 567.9L377.4 567.9L378.4 567.9L379.3 567.9L380.2 567.9L381.1 567.9L382.1 567.9L383 567.8L383.9 567.8L384.9 567.8L385.8 567.7L386.7 567.7L387.6 567.6L388.6 567.6L389.5 567.5L390.4 567.4L391.4 567.4L392.3 567.3L393.2 567.1L394.1 567L395.1 566.9L396 566.7L396.9 566.5L397.8 566.3L398.8 566.1L399.7 565.9L400.6 565.6L401.6 565.3L402.5 564.9L403.4 564.5L404.3 564.1L405.3 563.6L406.2 563.1L407.1 562.5L408 561.9L409 561.2L409.9 560.5L410.8 559.6L411.8 558.7L412.7 557.8L413.6 556.7L414.5 555.6L415.5 554.3L416.4 553L417.3 551.6L418.3 550.1L419.2 548.4L420.1 546.7L421 544.8L422 542.9L422.9 540.8L423.8 538.6L424.7 536.3L425.7 533.8L426.6 531.3L427.5 528.6L428.5 525.8L429.4 522.9L430.3 519.8L431.2 516.7L432.2 513.5L433.1 510.1L434 506.7L435 503.2L435.9 499.6L436.8 495.9L437.7 492.2L438.7 488.4L439.6 484.6L440.5 480.8L441.4 477L442.4 473.2L443.3 469.4L444.2 465.6L445.2 461.9L446.1 458.3L447 454.7L447.9 451.2L448.9 447.9L449.8 444.7L450.7 441.6L451.6 438.7L452.6 435.9L453.5 433.4L454.4 431L455.4 428.9L456.3 427L457.2 425.3L458.1 423.9L459.1 422.8L460 421.8L460.9 421.2L461.9 420.8L462.8 420.7L463.7 420.9L464.6 421.3L465.6 422L466.5 422.9L467.4 424.2L468.3 425.6L469.3 427.3L470.2 429.3L471.1 431.4L472.1 433.8L473 436.4L473.9 439.2L474.8 442.1L475.8 445.2L476.7 448.5L477.6 451.8L478.6 455.3L479.5 458.9L480.4 462.6L481.3 466.3L482.3 470L483.2 473.8L484.1 477.7L485 481.5L486 485.3L486.9 489.1L487.8 492.9L488.8 496.6L489.7 500.2L490.6 503.8L491.5 507.3L492.5 510.7L493.4 514L494.3 517.3L495.3 520.4L496.2 523.4L497.1 526.3L498 529.1L499 531.7L499.9 534.3L500.8 536.7L501.7 539L502.7 541.2L503.6 543.2L504.5 545.2L505.5 547L506.4 548.7L507.3 550.3L508.2 551.8L509.2 553.3L510.1 554.6L511 555.8L511.9 556.9L512.9 557.9L513.8 558.9L514.7 559.8L515.7 560.6L516.6 561.3L517.5 562L518.4 562.6L519.4 563.2L520.3 563.7L521.2 564.2L522.2 564.6L523.1 565L524 565.3L524.9 565.6L525.9 565.9L526.8 566.2L527.7 566.4L528.6 566.6L529.6 566.7L530.5 566.9L531.4 567L532.4 567.2L533.3 567.3L534.2 567.4L535.1 567.5L536.1 567.5L537 567.6L537.9 567.6L538.9 567.7L539.8 567.7L540.7 567.8L541.6 567.8L542.6 567.8L543.5 567.9L544.4 567.9L545.3 567.9L546.3 567.9L547.2 567.9L548.1 567.9L549.1 567.9L550 568L550.9 568L551.8 568L552.8 568L553.7 568L554.6 568L555.5 568L556.5 568L557.4 568L558.3 568L559.3 568L560.2 568L561.1 568L562 568L563 568L563.9 568L564.8 568L565.8 568L566.7 568L567.6 568L568.5 568L569.5 568L570.4 568L571.3 568L572.2 568L573.2 568L574.1 568L575 568L576 568L576.9 568L577.8 568L578.7 568L579.7 568L580.6 568L581.5 568L582.5 568L583.4 568L584.3 568L585.2 568L586.2 568L587.1 568L588 568L588.9 568L589.9 568L590.8 568L590.8 568L312.5 568Z" fill="#fa9b28" fill-opacity="0.47" stroke="#e88a30" stroke-opacity="0.45" stroke-width="0.8"/>
<path d="M312.5 568L313.4 568L314.4 568L315.3 568L316.2 568L317.1 568L318.1 568L319 568L319.9 568L320.8 568L321.8 568L322.7 568L323.6 568L324.6 568L325.5 568L326.4 568L327.3 568L328.3 568L329.2 568L330.1 568L331.1 568L332 568L332.9 568L333.8 568L334.8 568L335.7 568L336.6 568L337.5 568L338.5 568L339.4 568L340.3 568L341.3 568L342.2 568L343.1 568L344 568L345 568L345.9 568L346.8 568L347.8 568L348.7 568L349.6 568L350.5 568L351.5 568L352.4 568L353.3 568L354.2 568L355.2 568L356.1 568L357 568L358 568L358.9 568L359.8 568L360.7 568L361.7 568L362.6 568L363.5 568L364.4 568L365.4 567.9L366.3 567.9L367.2 567.9L368.2 567.9L369.1 567.9L370 567.8L370.9 567.8L371.9 567.7L372.8 567.7L373.7 567.6L374.7 567.5L375.6 567.4L376.5 567.3L377.4 567.1L378.4 566.9L379.3 566.7L380.2 566.5L381.1 566.2L382.1 565.9L383 565.5L383.9 565L384.9 564.5L385.8 563.9L386.7 563.3L387.6 562.5L388.6 561.7L389.5 560.8L390.4 559.7L391.4 558.5L392.3 557.2L393.2 555.8L394.1 554.2L395.1 552.5L396 550.6L396.9 548.6L397.8 546.4L398.8 544L399.7 541.4L400.6 538.8L401.6 535.9L402.5 532.9L403.4 529.7L404.3 526.4L405.3 522.9L406.2 519.4L407.1 515.7L408 511.9L409 508.1L409.9 504.2L410.8 500.2L411.8 496.3L412.7 492.4L413.6 488.4L414.5 484.6L415.5 480.8L416.4 477.1L417.3 473.5L418.3 470L419.2 466.6L420.1 463.5L421 460.4L422 457.6L422.9 454.9L423.8 452.4L424.7 450.1L425.7 447.9L426.6 446L427.5 444.1L428.5 442.5L429.4 440.9L430.3 439.5L431.2 438.2L432.2 437L433.1 435.9L434 434.8L435 433.8L435.9 432.7L436.8 431.7L437.7 430.7L438.7 429.6L439.6 428.6L440.5 427.4L441.4 426.3L442.4 425.1L443.3 423.8L444.2 422.5L445.2 421.2L446.1 419.8L447 418.4L447.9 417L448.9 415.5L449.8 414.1L450.7 412.7L451.6 411.3L452.6 410L453.5 408.8L454.4 407.6L455.4 406.6L456.3 405.6L457.2 404.8L458.1 404.2L459.1 403.6L460 403.3L460.9 403.1L461.9 403.1L462.8 403.2L463.7 403.6L464.6 404.1L465.6 404.8L466.5 405.7L467.4 406.7L468.3 407.9L469.3 409.3L470.2 410.7L471.1 412.4L472.1 414.1L473 416L473.9 417.9L474.8 419.9L475.8 422L476.7 424.2L477.6 426.4L478.6 428.6L479.5 430.8L480.4 433.1L481.3 435.3L482.3 437.5L483.2 439.7L484.1 441.8L485 443.9L486 445.9L486.9 447.9L487.8 449.8L488.8 451.7L489.7 453.5L490.6 455.2L491.5 456.8L492.5 458.4L493.4 459.9L494.3 461.4L495.3 462.8L496.2 464.1L497.1 465.4L498 466.6L499 467.8L499.9 469L500.8 470.1L501.7 471.2L502.7 472.2L503.6 473.3L504.5 474.3L505.5 475.4L506.4 476.4L507.3 477.5L508.2 478.5L509.2 479.6L510.1 480.7L511 481.8L511.9 482.9L512.9 484.1L513.8 485.3L514.7 486.5L515.7 487.8L516.6 489.1L517.5 490.4L518.4 491.8L519.4 493.2L520.3 494.6L521.2 496.1L522.2 497.6L523.1 499.1L524 500.6L524.9 502.2L525.9 503.8L526.8 505.4L527.7 507.1L528.6 508.7L529.6 510.4L530.5 512.1L531.4 513.8L532.4 515.4L533.3 517.1L534.2 518.8L535.1 520.5L536.1 522.1L537 523.8L537.9 525.4L538.9 527.1L539.8 528.7L540.7 530.2L541.6 531.8L542.6 533.3L543.5 534.8L544.4 536.3L545.3 537.7L546.3 539.1L547.2 540.5L548.1 541.8L549.1 543.1L550 544.4L550.9 545.6L551.8 546.7L552.8 547.9L553.7 549L554.6 550L555.5 551L556.5 552L557.4 553L558.3 553.8L559.3 554.7L560.2 555.5L561.1 556.3L562 557L563 557.8L563.9 558.4L564.8 559.1L565.8 559.7L566.7 560.2L567.6 560.8L568.5 561.3L569.5 561.8L570.4 562.2L571.3 562.6L572.2 563L573.2 563.4L574.1 563.8L575 564.1L576 564.4L576.9 564.7L577.8 565L578.7 565.2L579.7 565.4L580.6 565.7L581.5 565.9L582.5 566L583.4 566.2L584.3 566.4L585.2 566.5L586.2 566.6L587.1 566.8L588 566.9L588.9 567L589.9 567.1L590.8 567.2" fill="none" stroke="#1a1af5" stroke-width="1.55"/>
<circle cx="312.8" cy="553.3" r="1.75" fill="#fff" fill-opacity="0.8" stroke="#5c5cf0" stroke-width="0.85"/>
<circle cx="320.3" cy="554.7" r="1.75" fill="#fff" fill-opacity="0.8" stroke="#5c5cf0" stroke-width="0.85"/>
<circle cx="326.2" cy="546.3" r="1.75" fill="#fff" fill-opacity="0.8" stroke="#5c5cf0" stroke-width="0.85"/>
<circle cx="328.3" cy="557.5" r="1.75" fill="#fff" fill-opacity="0.8" stroke="#5c5cf0" stroke-width="0.85"/>
<circle cx="324" cy="565" r="1.75" fill="#fff" fill-opacity="0.8" stroke="#5c5cf0" stroke-width="0.85"/>
<circle cx="318.3" cy="571.7" r="1.75" fill="#fff" fill-opacity="0.8" stroke="#5c5cf0" stroke-width="0.85"/>
<circle cx="316.2" cy="576.7" r="1.75" fill="#fff" fill-opacity="0.8" stroke="#5c5cf0" stroke-width="0.85"/>
<circle cx="314" cy="579.2" r="1.75" fill="#fff" fill-opacity="0.8" stroke="#5c5cf0" stroke-width="0.85"/>
<circle cx="330.3" cy="569.7" r="1.75" fill="#fff" fill-opacity="0.8" stroke="#5c5cf0" stroke-width="0.85"/>
<circle cx="332.3" cy="575.3" r="1.75" fill="#fff" fill-opacity="0.8" stroke="#5c5cf0" stroke-width="0.85"/>
<circle cx="336.7" cy="570.8" r="1.75" fill="#fff" fill-opacity="0.8" stroke="#5c5cf0" stroke-width="0.85"/>
<circle cx="342" cy="545" r="1.75" fill="#fff" fill-opacity="0.8" stroke="#5c5cf0" stroke-width="0.85"/>
<circle cx="346.2" cy="570" r="1.75" fill="#fff" fill-opacity="0.8" stroke="#5c5cf0" stroke-width="0.85"/>
<circle cx="347.8" cy="585.8" r="1.75" fill="#fff" fill-opacity="0.8" stroke="#5c5cf0" stroke-width="0.85"/>
<circle cx="355.7" cy="565" r="1.75" fill="#fff" fill-opacity="0.8" stroke="#5c5cf0" stroke-width="0.85"/>
<circle cx="357.8" cy="547.5" r="1.75" fill="#fff" fill-opacity="0.8" stroke="#5c5cf0" stroke-width="0.85"/>
<circle cx="361.7" cy="557" r="1.75" fill="#fff" fill-opacity="0.8" stroke="#5c5cf0" stroke-width="0.85"/>
<circle cx="363.7" cy="575" r="1.75" fill="#fff" fill-opacity="0.8" stroke="#5c5cf0" stroke-width="0.85"/>
<circle cx="372" cy="536.7" r="1.75" fill="#fff" fill-opacity="0.8" stroke="#5c5cf0" stroke-width="0.85"/>
<circle cx="374" cy="555.3" r="1.75" fill="#fff" fill-opacity="0.8" stroke="#5c5cf0" stroke-width="0.85"/>
<circle cx="377.8" cy="587" r="1.75" fill="#fff" fill-opacity="0.8" stroke="#5c5cf0" stroke-width="0.85"/>
<circle cx="381.7" cy="563.3" r="1.75" fill="#fff" fill-opacity="0.8" stroke="#5c5cf0" stroke-width="0.85"/>
<circle cx="385.3" cy="560" r="1.75" fill="#fff" fill-opacity="0.8" stroke="#5c5cf0" stroke-width="0.85"/>
<circle cx="387.8" cy="524.2" r="1.75" fill="#fff" fill-opacity="0.8" stroke="#5c5cf0" stroke-width="0.85"/>
<circle cx="389.5" cy="520.8" r="1.75" fill="#fff" fill-opacity="0.8" stroke="#5c5cf0" stroke-width="0.85"/>
<circle cx="391.7" cy="540.3" r="1.75" fill="#fff" fill-opacity="0.8" stroke="#5c5cf0" stroke-width="0.85"/>
<circle cx="393.7" cy="568" r="1.75" fill="#fff" fill-opacity="0.8" stroke="#5c5cf0" stroke-width="0.85"/>
<circle cx="395.3" cy="527.5" r="1.75" fill="#fff" fill-opacity="0.8" stroke="#5c5cf0" stroke-width="0.85"/>
<circle cx="397.8" cy="560" r="1.75" fill="#fff" fill-opacity="0.8" stroke="#5c5cf0" stroke-width="0.85"/>
<circle cx="400" cy="548.7" r="1.75" fill="#fff" fill-opacity="0.8" stroke="#5c5cf0" stroke-width="0.85"/>
<circle cx="405.3" cy="519.7" r="1.75" fill="#fff" fill-opacity="0.8" stroke="#5c5cf0" stroke-width="0.85"/>
<circle cx="403.3" cy="496.7" r="1.75" fill="#fff" fill-opacity="0.8" stroke="#5c5cf0" stroke-width="0.85"/>
<circle cx="402" cy="528.7" r="1.75" fill="#fff" fill-opacity="0.8" stroke="#5c5cf0" stroke-width="0.85"/>
<circle cx="439.6" cy="395.4" r="1.75" fill="#fff" fill-opacity="0.8" stroke="#5c5cf0" stroke-width="0.85"/>
<circle cx="454.8" cy="396.8" r="1.75" fill="#fff" fill-opacity="0.8" stroke="#5c5cf0" stroke-width="0.85"/>
<circle cx="461.4" cy="389.8" r="1.75" fill="#fff" fill-opacity="0.8" stroke="#5c5cf0" stroke-width="0.85"/>
<circle cx="464" cy="389.4" r="1.75" fill="#fff" fill-opacity="0.8" stroke="#5c5cf0" stroke-width="0.85"/>
<circle cx="425.7" cy="420.6" r="1.75" fill="#fff" fill-opacity="0.8" stroke="#5c5cf0" stroke-width="0.85"/>
<circle cx="433.6" cy="421.6" r="1.75" fill="#fff" fill-opacity="0.8" stroke="#5c5cf0" stroke-width="0.85"/>
<circle cx="441.5" cy="423.6" r="1.75" fill="#fff" fill-opacity="0.8" stroke="#5c5cf0" stroke-width="0.85"/>
<circle cx="446.9" cy="417.2" r="1.75" fill="#fff" fill-opacity="0.8" stroke="#5c5cf0" stroke-width="0.85"/>
<circle cx="458.8" cy="416" r="1.75" fill="#fff" fill-opacity="0.8" stroke="#5c5cf0" stroke-width="0.85"/>
<circle cx="437" cy="429.1" r="1.75" fill="#fff" fill-opacity="0.8" stroke="#5c5cf0" stroke-width="0.85"/>
<circle cx="435.6" cy="435.9" r="1.75" fill="#fff" fill-opacity="0.8" stroke="#5c5cf0" stroke-width="0.85"/>
<circle cx="453.5" cy="426" r="1.75" fill="#fff" fill-opacity="0.8" stroke="#5c5cf0" stroke-width="0.85"/>
<circle cx="423.7" cy="439" r="1.75" fill="#fff" fill-opacity="0.8" stroke="#5c5cf0" stroke-width="0.85"/>
<circle cx="457.4" cy="434.5" r="1.75" fill="#fff" fill-opacity="0.8" stroke="#5c5cf0" stroke-width="0.85"/>
<circle cx="463.4" cy="436.5" r="1.75" fill="#fff" fill-opacity="0.8" stroke="#5c5cf0" stroke-width="0.85"/>
<circle cx="427.1" cy="445.8" r="1.75" fill="#fff" fill-opacity="0.8" stroke="#5c5cf0" stroke-width="0.85"/>
<circle cx="450.9" cy="444.4" r="1.75" fill="#fff" fill-opacity="0.8" stroke="#5c5cf0" stroke-width="0.85"/>
<circle cx="419.1" cy="450.4" r="1.75" fill="#fff" fill-opacity="0.8" stroke="#5c5cf0" stroke-width="0.85"/>
<circle cx="448.9" cy="449.8" r="1.75" fill="#fff" fill-opacity="0.8" stroke="#5c5cf0" stroke-width="0.85"/>
<circle cx="407.2" cy="456.3" r="1.75" fill="#fff" fill-opacity="0.8" stroke="#5c5cf0" stroke-width="0.85"/>
<circle cx="409.8" cy="460.3" r="1.75" fill="#fff" fill-opacity="0.8" stroke="#5c5cf0" stroke-width="0.85"/>
<circle cx="411.8" cy="463.3" r="1.75" fill="#fff" fill-opacity="0.8" stroke="#5c5cf0" stroke-width="0.85"/>
<circle cx="442.9" cy="454.9" r="1.75" fill="#fff" fill-opacity="0.8" stroke="#5c5cf0" stroke-width="0.85"/>
<circle cx="444.9" cy="457.3" r="1.75" fill="#fff" fill-opacity="0.8" stroke="#5c5cf0" stroke-width="0.85"/>
<circle cx="429.6" cy="462.3" r="1.75" fill="#fff" fill-opacity="0.8" stroke="#5c5cf0" stroke-width="0.85"/>
<circle cx="431.6" cy="464.8" r="1.75" fill="#fff" fill-opacity="0.8" stroke="#5c5cf0" stroke-width="0.85"/>
<circle cx="415.2" cy="474.2" r="1.75" fill="#fff" fill-opacity="0.8" stroke="#5c5cf0" stroke-width="0.85"/>
<circle cx="412.8" cy="486.7" r="1.75" fill="#fff" fill-opacity="0.8" stroke="#5c5cf0" stroke-width="0.85"/>
<circle cx="403.3" cy="496.6" r="1.75" fill="#fff" fill-opacity="0.8" stroke="#5c5cf0" stroke-width="0.85"/>
<circle cx="470.9" cy="383.9" r="1.75" fill="#fff" fill-opacity="0.8" stroke="#5c5cf0" stroke-width="0.85"/>
<circle cx="462.1" cy="389.9" r="1.75" fill="#fff" fill-opacity="0.8" stroke="#5c5cf0" stroke-width="0.85"/>
<circle cx="463.9" cy="389.6" r="1.75" fill="#fff" fill-opacity="0.8" stroke="#5c5cf0" stroke-width="0.85"/>
<circle cx="495.1" cy="412.4" r="1.75" fill="#fff" fill-opacity="0.8" stroke="#5c5cf0" stroke-width="0.85"/>
<circle cx="467" cy="421.5" r="1.75" fill="#fff" fill-opacity="0.8" stroke="#5c5cf0" stroke-width="0.85"/>
<circle cx="476.1" cy="424.6" r="1.75" fill="#fff" fill-opacity="0.8" stroke="#5c5cf0" stroke-width="0.85"/>
<circle cx="465.3" cy="436.6" r="1.75" fill="#fff" fill-opacity="0.8" stroke="#5c5cf0" stroke-width="0.85"/>
<circle cx="478.9" cy="436.9" r="1.75" fill="#fff" fill-opacity="0.8" stroke="#5c5cf0" stroke-width="0.85"/>
<circle cx="482.8" cy="441.3" r="1.75" fill="#fff" fill-opacity="0.8" stroke="#5c5cf0" stroke-width="0.85"/>
<circle cx="503" cy="444.3" r="1.75" fill="#fff" fill-opacity="0.8" stroke="#5c5cf0" stroke-width="0.85"/>
<circle cx="498.9" cy="449.2" r="1.75" fill="#fff" fill-opacity="0.8" stroke="#5c5cf0" stroke-width="0.85"/>
<circle cx="490.7" cy="450.1" r="1.75" fill="#fff" fill-opacity="0.8" stroke="#5c5cf0" stroke-width="0.85"/>
<circle cx="486.7" cy="451.8" r="1.75" fill="#fff" fill-opacity="0.8" stroke="#5c5cf0" stroke-width="0.85"/>
<circle cx="473.2" cy="453.1" r="1.75" fill="#fff" fill-opacity="0.8" stroke="#5c5cf0" stroke-width="0.85"/>
<circle cx="512.6" cy="452.7" r="1.75" fill="#fff" fill-opacity="0.8" stroke="#5c5cf0" stroke-width="0.85"/>
<circle cx="481.1" cy="462.9" r="1.75" fill="#fff" fill-opacity="0.8" stroke="#5c5cf0" stroke-width="0.85"/>
<circle cx="497.2" cy="465" r="1.75" fill="#fff" fill-opacity="0.8" stroke="#5c5cf0" stroke-width="0.85"/>
<circle cx="508.8" cy="464.6" r="1.75" fill="#fff" fill-opacity="0.8" stroke="#5c5cf0" stroke-width="0.85"/>
<circle cx="514.7" cy="461.8" r="1.75" fill="#fff" fill-opacity="0.8" stroke="#5c5cf0" stroke-width="0.85"/>
<circle cx="517" cy="462.9" r="1.75" fill="#fff" fill-opacity="0.8" stroke="#5c5cf0" stroke-width="0.85"/>
<circle cx="526.7" cy="461.5" r="1.75" fill="#fff" fill-opacity="0.8" stroke="#5c5cf0" stroke-width="0.85"/>
<circle cx="501.2" cy="478.2" r="1.75" fill="#fff" fill-opacity="0.8" stroke="#5c5cf0" stroke-width="0.85"/>
<circle cx="501.1" cy="478.9" r="1.75" fill="#fff" fill-opacity="0.8" stroke="#5c5cf0" stroke-width="0.85"/>
<circle cx="510.8" cy="487.2" r="1.75" fill="#fff" fill-opacity="0.8" stroke="#5c5cf0" stroke-width="0.85"/>
<circle cx="534.6" cy="485.9" r="1.75" fill="#fff" fill-opacity="0.8" stroke="#5c5cf0" stroke-width="0.85"/>
<circle cx="528.8" cy="492.1" r="1.75" fill="#fff" fill-opacity="0.8" stroke="#5c5cf0" stroke-width="0.85"/>
<circle cx="492.8" cy="496.3" r="1.75" fill="#fff" fill-opacity="0.8" stroke="#5c5cf0" stroke-width="0.85"/>
<circle cx="506.9" cy="497.5" r="1.75" fill="#fff" fill-opacity="0.8" stroke="#5c5cf0" stroke-width="0.85"/>
<circle cx="520.5" cy="495.6" r="1.75" fill="#fff" fill-opacity="0.8" stroke="#5c5cf0" stroke-width="0.85"/>
<circle cx="544.6" cy="503.7" r="1.75" fill="#fff" fill-opacity="0.8" stroke="#5c5cf0" stroke-width="0.85"/>
<circle cx="505" cy="507.2" r="1.75" fill="#fff" fill-opacity="0.8" stroke="#5c5cf0" stroke-width="0.85"/>
<circle cx="524.9" cy="507.2" r="1.75" fill="#fff" fill-opacity="0.8" stroke="#5c5cf0" stroke-width="0.85"/>
<circle cx="519.1" cy="514.9" r="1.75" fill="#fff" fill-opacity="0.8" stroke="#5c5cf0" stroke-width="0.85"/>
<circle cx="530.7" cy="522.1" r="1.75" fill="#fff" fill-opacity="0.8" stroke="#5c5cf0" stroke-width="0.85"/>
<circle cx="538.8" cy="521.5" r="1.75" fill="#fff" fill-opacity="0.8" stroke="#5c5cf0" stroke-width="0.85"/>
<circle cx="542.7" cy="520.7" r="1.75" fill="#fff" fill-opacity="0.8" stroke="#5c5cf0" stroke-width="0.85"/>
<circle cx="547" cy="523" r="1.75" fill="#fff" fill-opacity="0.8" stroke="#5c5cf0" stroke-width="0.85"/>
<circle cx="556.6" cy="529.2" r="1.75" fill="#fff" fill-opacity="0.8" stroke="#5c5cf0" stroke-width="0.85"/>
<circle cx="540.8" cy="532.3" r="1.75" fill="#fff" fill-opacity="0.8" stroke="#5c5cf0" stroke-width="0.85"/>
<circle cx="532.6" cy="536.2" r="1.75" fill="#fff" fill-opacity="0.8" stroke="#5c5cf0" stroke-width="0.85"/>
<circle cx="523" cy="542.4" r="1.75" fill="#fff" fill-opacity="0.8" stroke="#5c5cf0" stroke-width="0.85"/>
<circle cx="562.4" cy="544.7" r="1.75" fill="#fff" fill-opacity="0.8" stroke="#5c5cf0" stroke-width="0.85"/>
<circle cx="554.7" cy="549.1" r="1.75" fill="#fff" fill-opacity="0.8" stroke="#5c5cf0" stroke-width="0.85"/>
<circle cx="568.2" cy="549.7" r="1.75" fill="#fff" fill-opacity="0.8" stroke="#5c5cf0" stroke-width="0.85"/>
<circle cx="572.7" cy="554.9" r="1.75" fill="#fff" fill-opacity="0.8" stroke="#5c5cf0" stroke-width="0.85"/>
<circle cx="552.4" cy="562.7" r="1.75" fill="#fff" fill-opacity="0.8" stroke="#5c5cf0" stroke-width="0.85"/>
<circle cx="548.5" cy="567.9" r="1.75" fill="#fff" fill-opacity="0.8" stroke="#5c5cf0" stroke-width="0.85"/>
<circle cx="550.8" cy="570.4" r="1.75" fill="#fff" fill-opacity="0.8" stroke="#5c5cf0" stroke-width="0.85"/>
<circle cx="566.3" cy="566.5" r="1.75" fill="#fff" fill-opacity="0.8" stroke="#5c5cf0" stroke-width="0.85"/>
<circle cx="564.4" cy="574.3" r="1.75" fill="#fff" fill-opacity="0.8" stroke="#5c5cf0" stroke-width="0.85"/>
<circle cx="536.5" cy="582" r="1.75" fill="#fff" fill-opacity="0.8" stroke="#5c5cf0" stroke-width="0.85"/>
<circle cx="558.6" cy="582" r="1.75" fill="#fff" fill-opacity="0.8" stroke="#5c5cf0" stroke-width="0.85"/>
</g>
<rect x="312.5" y="328" width="278.3" height="263.7" fill="none" stroke="#1a1a1a" stroke-width="1.4"/>
<path d="M312.5 591.7V588.9M332.4 591.7V586.5M352.3 591.7V588.9M372.1 591.7V586.5M392 591.7V588.9M411.9 591.7V586.5M431.8 591.7V588.9M451.6 591.7V586.5M471.5 591.7V588.9M491.4 591.7V586.5M511.3 591.7V588.9M531.2 591.7V586.5M551 591.7V588.9M570.9 591.7V586.5M590.8 591.7V588.9" stroke="#1a1a1a" stroke-width="1.3" fill="none"/>
<text transform="translate(332.4 606.3) scale(1.07 1)" font-family="Liberation Sans, sans-serif" font-size="11.3" text-anchor="middle" fill="#1a1a1a" stroke="#1a1a1a" stroke-width="0.22">110</text>
<text transform="translate(372.1 606.3) scale(1.07 1)" font-family="Liberation Sans, sans-serif" font-size="11.3" text-anchor="middle" fill="#1a1a1a" stroke="#1a1a1a" stroke-width="0.22">108</text>
<text transform="translate(411.9 606.3) scale(1.07 1)" font-family="Liberation Sans, sans-serif" font-size="11.3" text-anchor="middle" fill="#1a1a1a" stroke="#1a1a1a" stroke-width="0.22">106</text>
<text transform="translate(451.6 606.3) scale(1.07 1)" font-family="Liberation Sans, sans-serif" font-size="11.3" text-anchor="middle" fill="#1a1a1a" stroke="#1a1a1a" stroke-width="0.22">104</text>
<text transform="translate(491.4 606.3) scale(1.07 1)" font-family="Liberation Sans, sans-serif" font-size="11.3" text-anchor="middle" fill="#1a1a1a" stroke="#1a1a1a" stroke-width="0.22">102</text>
<text transform="translate(531.2 606.3) scale(1.07 1)" font-family="Liberation Sans, sans-serif" font-size="11.3" text-anchor="middle" fill="#1a1a1a" stroke="#1a1a1a" stroke-width="0.22">100</text>
<text transform="translate(570.9 606.3) scale(1.07 1)" font-family="Liberation Sans, sans-serif" font-size="11.3" text-anchor="middle" fill="#1a1a1a" stroke="#1a1a1a" stroke-width="0.22">98</text>
<text transform="translate(541 350) scale(1.12 1)" font-family="Liberation Sans, sans-serif" font-size="14" text-anchor="start" fill="#1a1a1a" stroke="#1a1a1a" stroke-width="0.15">Hg 4f</text>
<text transform="translate(389.9 380) scale(1.09 1)" font-family="Liberation Sans, sans-serif" font-size="10" text-anchor="start" fill="#1a1a1a" stroke="#1a1a1a" stroke-width="0.12">Si 2p: 103.4</text>
<path d="M441.6 385L446.2 396.9" stroke="#1a1a1a" stroke-width="1"/>
<path d="M448 401.6L444 397.8L448.4 396.1Z" fill="#1a1a1a"/>
<text transform="translate(368.5 455) scale(1.09 1)" font-family="Liberation Sans, sans-serif" font-size="10" text-anchor="start" fill="#1a1a1a" stroke="#1a1a1a" stroke-width="0.12">105.3</text>
<path d="M392 460L396.8 466.9" stroke="#1a1a1a" stroke-width="1"/>
<path d="M399.6 471L394.8 468.3L398.7 465.5Z" fill="#1a1a1a"/>
<text transform="translate(545.5 456.5) scale(1.09 1)" font-family="Liberation Sans, sans-serif" font-size="10" text-anchor="start" fill="#1a1a1a" stroke="#1a1a1a" stroke-width="0.12">100.9</text>
<path d="M546.6 461L540 469.8" stroke="#1a1a1a" stroke-width="1"/>
<path d="M537 473.8L538.1 468.4L541.9 471.2Z" fill="#1a1a1a"/>
<g fill="#222" stroke="#222" stroke-width="0.35" font-family="Liberation Sans, sans-serif">
<text x="420.8" y="629" font-size="12" letter-spacing="-0.2">结合能</text>
<text x="460.4" y="629.5" font-size="13.5" stroke-width="0">(</text>
<text x="468.8" y="630" font-size="13.2">eV</text>
<text x="489.2" y="629.5" font-size="13.5" stroke-width="0">)</text>
</g>
<text x="451.2" y="649.5" font-family="Liberation Serif, serif" font-size="16" text-anchor="middle" fill="#111">(<tspan font-weight="bold">d</tspan>)</text>
</svg></body></html>
